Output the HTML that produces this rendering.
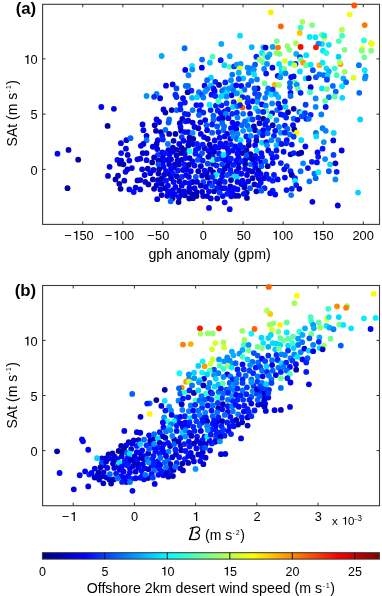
<!DOCTYPE html><html><head><meta charset="utf-8"><style>html,body{margin:0;padding:0;overflow:hidden}svg{display:block;will-change:transform}</style></head><body><svg xmlns="http://www.w3.org/2000/svg" width="382" height="596" viewBox="0 0 382 596">
<rect x="42.6" y="4.3" width="336.9" height="220.1" fill="none" stroke="#3a3a3a" stroke-width="1.1"/>
<line x1="82.75" y1="224.4" x2="82.75" y2="221.4" stroke="#333" stroke-width="1"/>
<line x1="82.75" y1="4.3" x2="82.75" y2="7.3" stroke="#333" stroke-width="1"/>
<path d="M600,0L800,0L800,1429L655,1429C625,1290 520,1215 230,1200L230,1065L600,1065Z" fill="#000" transform="translate(72.37,239.70) scale(0.00625,-0.00625)"/><text x="79.49" y="239.70" font-family="Liberation Sans, sans-serif" font-size="12.8" fill="#000">50</text>
<text x="64.30" y="239.70" font-family="Liberation Sans, sans-serif" font-size="12.8" fill="#000">&#8722;</text>
<line x1="122.83" y1="224.4" x2="122.83" y2="221.4" stroke="#333" stroke-width="1"/>
<line x1="122.83" y1="4.3" x2="122.83" y2="7.3" stroke="#333" stroke-width="1"/>
<path d="M600,0L800,0L800,1429L655,1429C625,1290 520,1215 230,1200L230,1065L600,1065Z" fill="#000" transform="translate(112.85,239.70) scale(0.00625,-0.00625)"/><text x="119.97" y="239.70" font-family="Liberation Sans, sans-serif" font-size="12.8" fill="#000">00</text>
<text x="104.78" y="239.70" font-family="Liberation Sans, sans-serif" font-size="12.8" fill="#000">&#8722;</text>
<line x1="162.91" y1="224.4" x2="162.91" y2="221.4" stroke="#333" stroke-width="1"/>
<line x1="162.91" y1="4.3" x2="162.91" y2="7.3" stroke="#333" stroke-width="1"/>
<text x="155.09" y="239.70" font-family="Liberation Sans, sans-serif" font-size="12.8" fill="#000">50</text>
<text x="147.02" y="239.70" font-family="Liberation Sans, sans-serif" font-size="12.8" fill="#000">&#8722;</text>
<line x1="202.99" y1="224.4" x2="202.99" y2="221.4" stroke="#333" stroke-width="1"/>
<line x1="202.99" y1="4.3" x2="202.99" y2="7.3" stroke="#333" stroke-width="1"/>
<text x="199.83" y="239.70" font-family="Liberation Sans, sans-serif" font-size="12.8" fill="#000">0</text>
<line x1="243.07" y1="224.4" x2="243.07" y2="221.4" stroke="#333" stroke-width="1"/>
<line x1="243.07" y1="4.3" x2="243.07" y2="7.3" stroke="#333" stroke-width="1"/>
<text x="236.75" y="239.70" font-family="Liberation Sans, sans-serif" font-size="12.8" fill="#000">50</text>
<line x1="283.15" y1="224.4" x2="283.15" y2="221.4" stroke="#333" stroke-width="1"/>
<line x1="283.15" y1="4.3" x2="283.15" y2="7.3" stroke="#333" stroke-width="1"/>
<path d="M600,0L800,0L800,1429L655,1429C625,1290 520,1215 230,1200L230,1065L600,1065Z" fill="#000" transform="translate(271.87,239.70) scale(0.00625,-0.00625)"/><text x="278.99" y="239.70" font-family="Liberation Sans, sans-serif" font-size="12.8" fill="#000">00</text>
<line x1="323.23" y1="224.4" x2="323.23" y2="221.4" stroke="#333" stroke-width="1"/>
<line x1="323.23" y1="4.3" x2="323.23" y2="7.3" stroke="#333" stroke-width="1"/>
<path d="M600,0L800,0L800,1429L655,1429C625,1290 520,1215 230,1200L230,1065L600,1065Z" fill="#000" transform="translate(312.15,239.70) scale(0.00625,-0.00625)"/><text x="319.27" y="239.70" font-family="Liberation Sans, sans-serif" font-size="12.8" fill="#000">50</text>
<line x1="363.31" y1="224.4" x2="363.31" y2="221.4" stroke="#333" stroke-width="1"/>
<line x1="363.31" y1="4.3" x2="363.31" y2="7.3" stroke="#333" stroke-width="1"/>
<text x="352.43" y="239.70" font-family="Liberation Sans, sans-serif" font-size="12.8" fill="#000">200</text>
<line x1="42.6" y1="169.4" x2="45.6" y2="169.4" stroke="#333" stroke-width="1"/>
<line x1="379.5" y1="169.4" x2="376.5" y2="169.4" stroke="#333" stroke-width="1"/>
<text x="30.58" y="174.50" font-family="Liberation Sans, sans-serif" font-size="12.8" fill="#000">0</text>
<line x1="42.6" y1="114.15" x2="45.6" y2="114.15" stroke="#333" stroke-width="1"/>
<line x1="379.5" y1="114.15" x2="376.5" y2="114.15" stroke="#333" stroke-width="1"/>
<text x="30.58" y="119.25" font-family="Liberation Sans, sans-serif" font-size="12.8" fill="#000">5</text>
<line x1="42.6" y1="58.900000000000006" x2="45.6" y2="58.900000000000006" stroke="#333" stroke-width="1"/>
<line x1="379.5" y1="58.900000000000006" x2="376.5" y2="58.900000000000006" stroke="#333" stroke-width="1"/>
<path d="M600,0L800,0L800,1429L655,1429C625,1290 520,1215 230,1200L230,1065L600,1065Z" fill="#000" transform="translate(23.46,64.00) scale(0.00625,-0.00625)"/><text x="30.58" y="64.00" font-family="Liberation Sans, sans-serif" font-size="12.8" fill="#000">0</text>
<g><circle cx="196.45" cy="195.99" r="2.9" fill="#0000b8"/><circle cx="260.72" cy="182.47" r="2.9" fill="#0005ff"/><circle cx="181.67" cy="147.98" r="2.9" fill="#0000b8"/><circle cx="213.15" cy="172.19" r="2.9" fill="#0000b8"/><circle cx="221.57" cy="188.17" r="2.9" fill="#0000b8"/><circle cx="235.2" cy="146.5" r="2.9" fill="#0005ff"/><circle cx="231.16" cy="173.57" r="2.9" fill="#0018ff"/><circle cx="176.56" cy="155.61" r="2.9" fill="#0000cb"/><circle cx="249.61" cy="157.52" r="2.9" fill="#0005ff"/><circle cx="218.47" cy="147.65" r="2.9" fill="#0005ff"/><circle cx="246.36" cy="150.09" r="2.9" fill="#0000c0"/><circle cx="235.24" cy="195.75" r="2.9" fill="#0000cb"/><circle cx="203.14" cy="196.07" r="2.9" fill="#0000e6"/><circle cx="167.21" cy="195.73" r="2.9" fill="#0000de"/><circle cx="192.9" cy="198.22" r="2.9" fill="#0000b8"/><circle cx="179.01" cy="197.55" r="2.9" fill="#0000f1"/><circle cx="245.17" cy="163.99" r="2.9" fill="#0000b8"/><circle cx="164.93" cy="188.17" r="2.9" fill="#0000c0"/><circle cx="169.47" cy="154.43" r="2.9" fill="#0000e9"/><circle cx="192.45" cy="161.48" r="2.9" fill="#0005ff"/><circle cx="210.81" cy="198.42" r="2.9" fill="#0000e6"/><circle cx="188.36" cy="145.48" r="2.9" fill="#0000ad"/><circle cx="241.39" cy="184.02" r="2.9" fill="#0000f1"/><circle cx="223.35" cy="146.55" r="2.9" fill="#0005ff"/><circle cx="252.34" cy="171.39" r="2.9" fill="#0000c0"/><circle cx="158.57" cy="160.67" r="2.9" fill="#0000b8"/><circle cx="162.7" cy="162.44" r="2.9" fill="#0000e9"/><circle cx="231.26" cy="196.31" r="2.9" fill="#0005ff"/><circle cx="238.39" cy="195.79" r="2.9" fill="#0000cb"/><circle cx="220.52" cy="180.56" r="2.9" fill="#0005ff"/><circle cx="167.57" cy="159.94" r="2.9" fill="#0000de"/><circle cx="179.0" cy="164.59" r="2.9" fill="#0000de"/><circle cx="211.13" cy="148.16" r="2.9" fill="#0000b8"/><circle cx="184.75" cy="195.35" r="2.9" fill="#0000b8"/><circle cx="258.86" cy="178.19" r="2.9" fill="#0000c0"/><circle cx="221.25" cy="158.55" r="2.9" fill="#001fff"/><circle cx="195.41" cy="153.67" r="2.9" fill="#0018ff"/><circle cx="245.19" cy="159.8" r="2.9" fill="#0000b8"/><circle cx="207.08" cy="196.11" r="2.9" fill="#0000cb"/><circle cx="196.65" cy="192.05" r="2.9" fill="#0000b8"/><circle cx="229.33" cy="161.82" r="2.9" fill="#0005ff"/><circle cx="199.69" cy="156.11" r="2.9" fill="#0018ff"/><circle cx="206.76" cy="173.41" r="2.9" fill="#0000cb"/><circle cx="172.55" cy="198.34" r="2.9" fill="#0000c0"/><circle cx="192.71" cy="182.02" r="2.9" fill="#0000c0"/><circle cx="261.19" cy="162.68" r="2.9" fill="#0005ff"/><circle cx="227.33" cy="148.35" r="2.9" fill="#0005ff"/><circle cx="250.51" cy="154.16" r="2.9" fill="#0000b8"/><circle cx="184.88" cy="153.81" r="2.9" fill="#0000cb"/><circle cx="158.48" cy="173.62" r="2.9" fill="#0000b8"/><circle cx="210.33" cy="153.3" r="2.9" fill="#0000b8"/><circle cx="222.73" cy="196.03" r="2.9" fill="#0005ff"/><circle cx="172.88" cy="147.72" r="2.9" fill="#0000c0"/><circle cx="204.59" cy="148.17" r="2.9" fill="#0000cb"/><circle cx="186.52" cy="169.32" r="2.9" fill="#0000f1"/><circle cx="189.29" cy="187.93" r="2.9" fill="#0000de"/><circle cx="189.19" cy="198.52" r="2.9" fill="#0000ad"/><circle cx="172.86" cy="151.67" r="2.9" fill="#0000de"/><circle cx="192.38" cy="194.45" r="2.9" fill="#0000b8"/><circle cx="193.13" cy="144.11" r="2.9" fill="#0000de"/><circle cx="212.65" cy="156.56" r="2.9" fill="#001fff"/><circle cx="238.39" cy="163.34" r="2.9" fill="#0000cb"/><circle cx="236.63" cy="171.38" r="2.9" fill="#0005ff"/><circle cx="222.32" cy="172.07" r="2.9" fill="#0000cb"/><circle cx="238.5" cy="157.58" r="2.9" fill="#0005ff"/><circle cx="243.44" cy="147.54" r="2.9" fill="#001fff"/><circle cx="168.39" cy="150.18" r="2.9" fill="#0000de"/><circle cx="255.3" cy="167.31" r="2.9" fill="#0005ff"/><circle cx="255.34" cy="155.95" r="2.9" fill="#0010ff"/><circle cx="244.55" cy="184.7" r="2.9" fill="#0000f1"/><circle cx="238.63" cy="149.35" r="2.9" fill="#0005ff"/><circle cx="161.55" cy="178.6" r="2.9" fill="#0000c0"/><circle cx="171.3" cy="193.67" r="2.9" fill="#0000f1"/><circle cx="181.26" cy="194.58" r="2.9" fill="#0000e9"/><circle cx="246.71" cy="192.6" r="2.9" fill="#0000c0"/><circle cx="198.42" cy="148.01" r="2.9" fill="#0005ff"/><circle cx="174.66" cy="167.63" r="2.9" fill="#0000cb"/><circle cx="177.62" cy="160.34" r="2.9" fill="#0000cb"/><circle cx="260.57" cy="173.84" r="2.9" fill="#0005ff"/><circle cx="226.83" cy="156.49" r="2.9" fill="#0005ff"/><circle cx="228.96" cy="190.04" r="2.9" fill="#0005ff"/><circle cx="169.5" cy="173.91" r="2.9" fill="#0000cb"/><circle cx="213.1" cy="163.73" r="2.9" fill="#0000cb"/><circle cx="184.85" cy="150.12" r="2.9" fill="#0000c0"/><circle cx="210.63" cy="110.11" r="2.9" fill="#001fff"/><circle cx="214.65" cy="140.48" r="2.9" fill="#0005ff"/><circle cx="233.76" cy="102.2" r="2.9" fill="#001fff"/><circle cx="200.41" cy="122.34" r="2.9" fill="#0000e9"/><circle cx="288.02" cy="112.17" r="2.9" fill="#0000b8"/><circle cx="215.97" cy="105.67" r="2.9" fill="#001fff"/><circle cx="232.56" cy="122.61" r="2.9" fill="#0005ff"/><circle cx="221.53" cy="105.36" r="2.9" fill="#0010ff"/><circle cx="221.3" cy="43.96" r="2.9" fill="#00abff"/><circle cx="184.61" cy="48.23" r="2.9" fill="#006eff"/><circle cx="270.81" cy="12.42" r="2.9" fill="#ffef00"/><circle cx="280.86" cy="26.37" r="2.9" fill="#ff6300"/><circle cx="240.03" cy="35.66" r="2.9" fill="#00e0ff"/><circle cx="276.84" cy="41.07" r="2.9" fill="#6dff92"/><circle cx="251.71" cy="47.1" r="2.9" fill="#00b6ff"/><circle cx="263.27" cy="47.35" r="2.9" fill="#00beff"/><circle cx="265.53" cy="47.6" r="2.9" fill="#0000e9"/><circle cx="272.7" cy="46.97" r="2.9" fill="#00a3ff"/><circle cx="277.97" cy="47.6" r="2.9" fill="#ff7600"/><circle cx="302.48" cy="21.84" r="2.9" fill="#a5ff5a"/><circle cx="312.15" cy="25.11" r="2.9" fill="#80ff80"/><circle cx="299.71" cy="32.9" r="2.9" fill="#ffc200"/><circle cx="300.59" cy="27.62" r="2.9" fill="#34ffcb"/><circle cx="309.64" cy="36.92" r="2.9" fill="#00e7ff"/><circle cx="315.42" cy="37.17" r="2.9" fill="#00e7ff"/><circle cx="321.95" cy="34.79" r="2.9" fill="#6dff92"/><circle cx="324.47" cy="37.93" r="2.9" fill="#deff21"/><circle cx="324.21" cy="35.66" r="2.9" fill="#00efff"/><circle cx="295.94" cy="43.2" r="2.9" fill="#a5ff5a"/><circle cx="287.4" cy="46.09" r="2.9" fill="#92ff6d"/><circle cx="300.59" cy="46.97" r="2.9" fill="#ff0500"/><circle cx="321.95" cy="43.96" r="2.9" fill="#00e0ff"/><circle cx="318.43" cy="43.58" r="2.9" fill="#0089ff"/><circle cx="315.92" cy="47.35" r="2.9" fill="#ff1800"/><circle cx="328.86" cy="44.84" r="2.9" fill="#00e0ff"/><circle cx="289.28" cy="49.86" r="2.9" fill="#80ff80"/><circle cx="322.96" cy="50.74" r="2.9" fill="#00e7ff"/><circle cx="354.25" cy="5.51" r="2.9" fill="#ff5800"/><circle cx="349.6" cy="14.3" r="2.9" fill="#f1ff0e"/><circle cx="364.68" cy="25.11" r="2.9" fill="#ff7600"/><circle cx="341.93" cy="29.76" r="2.9" fill="#b8ff47"/><circle cx="342.06" cy="35.66" r="2.9" fill="#3fffc0"/><circle cx="338.79" cy="41.07" r="2.9" fill="#47ffb8"/><circle cx="363.92" cy="40.44" r="2.9" fill="#2cffd3"/><circle cx="370.96" cy="43.2" r="2.9" fill="#b8ff47"/><circle cx="371.84" cy="43.96" r="2.9" fill="#fffa00"/><circle cx="362.16" cy="48.61" r="2.9" fill="#f1ff0e"/><circle cx="344.57" cy="49.86" r="2.9" fill="#80ff80"/><circle cx="361.79" cy="50.74" r="2.9" fill="#80ff80"/><circle cx="371.21" cy="50.74" r="2.9" fill="#80ff80"/><circle cx="161.62" cy="56.02" r="2.9" fill="#00abff"/><circle cx="185.24" cy="69.97" r="2.9" fill="#0000f1"/><circle cx="166.02" cy="85.68" r="2.9" fill="#0000f8"/><circle cx="172.68" cy="84.42" r="2.9" fill="#0000f1"/><circle cx="176.45" cy="88.44" r="2.9" fill="#0045ff"/><circle cx="185.74" cy="85.93" r="2.9" fill="#006bff"/><circle cx="146.54" cy="95.98" r="2.9" fill="#0094ff"/><circle cx="156.59" cy="93.84" r="2.9" fill="#0081ff"/><circle cx="154.08" cy="96.86" r="2.9" fill="#002aff"/><circle cx="160.11" cy="98.24" r="2.9" fill="#0000de"/><circle cx="175.44" cy="94.72" r="2.9" fill="#002aff"/><circle cx="176.45" cy="96.98" r="2.9" fill="#002aff"/><circle cx="182.98" cy="98.24" r="2.9" fill="#0000e9"/><circle cx="202.08" cy="59.54" r="2.9" fill="#006bff"/><circle cx="212.51" cy="56.65" r="2.9" fill="#47ffb8"/><circle cx="209.99" cy="62.68" r="2.9" fill="#00c5ff"/><circle cx="220.68" cy="60.17" r="2.9" fill="#0018ff"/><circle cx="229.72" cy="56.15" r="2.9" fill="#00afff"/><circle cx="224.32" cy="65.19" r="2.9" fill="#00d4ff"/><circle cx="229.47" cy="66.83" r="2.9" fill="#52ffad"/><circle cx="234.12" cy="66.45" r="2.9" fill="#003dff"/><circle cx="192.03" cy="65.82" r="2.9" fill="#00e7ff"/><circle cx="192.28" cy="69.59" r="2.9" fill="#0094ff"/><circle cx="201.83" cy="67.71" r="2.9" fill="#0000f1"/><circle cx="188.51" cy="75.25" r="2.9" fill="#0089ff"/><circle cx="232.24" cy="74.62" r="2.9" fill="#0076ff"/><circle cx="230.98" cy="80.27" r="2.9" fill="#0089ff"/><circle cx="210.87" cy="77.76" r="2.9" fill="#00d4ff"/><circle cx="207.1" cy="80.27" r="2.9" fill="#006bff"/><circle cx="215.27" cy="81.78" r="2.9" fill="#002aff"/><circle cx="219.04" cy="84.92" r="2.9" fill="#0000b8"/><circle cx="225.32" cy="82.41" r="2.9" fill="#0023ff"/><circle cx="204.59" cy="85.68" r="2.9" fill="#0000e9"/><circle cx="210.87" cy="85.3" r="2.9" fill="#00c2ff"/><circle cx="207.1" cy="89.07" r="2.9" fill="#0076ff"/><circle cx="213.39" cy="88.44" r="2.9" fill="#0010ff"/><circle cx="188.01" cy="85.93" r="2.9" fill="#006bff"/><circle cx="191.4" cy="90.7" r="2.9" fill="#002aff"/><circle cx="187.63" cy="92.21" r="2.9" fill="#0000ad"/><circle cx="198.94" cy="92.21" r="2.9" fill="#0076ff"/><circle cx="201.83" cy="94.72" r="2.9" fill="#003dff"/><circle cx="205.22" cy="91.58" r="2.9" fill="#0094ff"/><circle cx="214.64" cy="90.95" r="2.9" fill="#0005ff"/><circle cx="211.5" cy="94.72" r="2.9" fill="#000cff"/><circle cx="224.7" cy="89.07" r="2.9" fill="#0094ff"/><circle cx="222.18" cy="90.95" r="2.9" fill="#006bff"/><circle cx="227.21" cy="91.96" r="2.9" fill="#00d4ff"/><circle cx="229.09" cy="88.44" r="2.9" fill="#0094ff"/><circle cx="232.86" cy="85.93" r="2.9" fill="#009cff"/><circle cx="233.49" cy="90.32" r="2.9" fill="#0076ff"/><circle cx="231.61" cy="95.35" r="2.9" fill="#0000de"/><circle cx="192.03" cy="97.86" r="2.9" fill="#00afff"/><circle cx="197.05" cy="97.24" r="2.9" fill="#00d4ff"/><circle cx="203.34" cy="97.49" r="2.9" fill="#0076ff"/><circle cx="215.27" cy="95.98" r="2.9" fill="#002aff"/><circle cx="220.93" cy="96.61" r="2.9" fill="#00d4ff"/><circle cx="224.07" cy="95.35" r="2.9" fill="#00e0ff"/><circle cx="226.58" cy="96.61" r="2.9" fill="#0089ff"/><circle cx="262.02" cy="53.01" r="2.9" fill="#00e7ff"/><circle cx="276.47" cy="53.01" r="2.9" fill="#92ff6d"/><circle cx="279.61" cy="53.88" r="2.9" fill="#80ff80"/><circle cx="269.55" cy="54.51" r="2.9" fill="#00afff"/><circle cx="265.16" cy="55.52" r="2.9" fill="#6dff92"/><circle cx="256.36" cy="56.77" r="2.9" fill="#0023ff"/><circle cx="267.67" cy="57.03" r="2.9" fill="#0094ff"/><circle cx="259.5" cy="59.54" r="2.9" fill="#92ff6d"/><circle cx="262.9" cy="62.05" r="2.9" fill="#6dff92"/><circle cx="267.04" cy="63.94" r="2.9" fill="#0094ff"/><circle cx="236.88" cy="64.57" r="2.9" fill="#0094ff"/><circle cx="240.65" cy="63.94" r="2.9" fill="#009cff"/><circle cx="239.77" cy="68.34" r="2.9" fill="#deff21"/><circle cx="247.57" cy="67.71" r="2.9" fill="#0089ff"/><circle cx="251.34" cy="68.34" r="2.9" fill="#0081ff"/><circle cx="255.1" cy="64.57" r="2.9" fill="#0058ff"/><circle cx="253.85" cy="69.59" r="2.9" fill="#0094ff"/><circle cx="264.15" cy="68.96" r="2.9" fill="#0089ff"/><circle cx="272.45" cy="67.71" r="2.9" fill="#0000e6"/><circle cx="278.98" cy="63.94" r="2.9" fill="#00dcff"/><circle cx="281.49" cy="68.34" r="2.9" fill="#00e0ff"/><circle cx="238.77" cy="72.73" r="2.9" fill="#00afff"/><circle cx="248.82" cy="72.73" r="2.9" fill="#0089ff"/><circle cx="254.1" cy="74.37" r="2.9" fill="#00e7ff"/><circle cx="266.16" cy="73.61" r="2.9" fill="#0005ff"/><circle cx="277.72" cy="75.87" r="2.9" fill="#0010ff"/><circle cx="281.49" cy="72.73" r="2.9" fill="#00d4ff"/><circle cx="280.24" cy="77.13" r="2.9" fill="#0094ff"/><circle cx="243.17" cy="78.39" r="2.9" fill="#00c2ff"/><circle cx="238.77" cy="79.02" r="2.9" fill="#0050ff"/><circle cx="251.34" cy="80.9" r="2.9" fill="#0076ff"/><circle cx="256.99" cy="79.39" r="2.9" fill="#0081ff"/><circle cx="236.26" cy="85.3" r="2.9" fill="#0005ff"/><circle cx="241.28" cy="85.93" r="2.9" fill="#0008ff"/><circle cx="248.19" cy="84.92" r="2.9" fill="#003dff"/><circle cx="244.42" cy="89.7" r="2.9" fill="#006bff"/><circle cx="240.03" cy="92.21" r="2.9" fill="#47ffb8"/><circle cx="236.88" cy="93.47" r="2.9" fill="#0094ff"/><circle cx="264.53" cy="83.41" r="2.9" fill="#6dff92"/><circle cx="274.58" cy="84.92" r="2.9" fill="#ffaf00"/><circle cx="278.98" cy="84.92" r="2.9" fill="#92ff6d"/><circle cx="257.62" cy="88.44" r="2.9" fill="#0000cb"/><circle cx="254.48" cy="88.44" r="2.9" fill="#0050ff"/><circle cx="268.3" cy="88.44" r="2.9" fill="#006bff"/><circle cx="272.7" cy="89.7" r="2.9" fill="#002aff"/><circle cx="255.1" cy="93.47" r="2.9" fill="#003dff"/><circle cx="258.87" cy="94.72" r="2.9" fill="#0049ff"/><circle cx="267.04" cy="92.84" r="2.9" fill="#0076ff"/><circle cx="271.44" cy="94.72" r="2.9" fill="#00e7ff"/><circle cx="275.84" cy="94.09" r="2.9" fill="#009cff"/><circle cx="278.35" cy="97.24" r="2.9" fill="#00b6ff"/><circle cx="242.54" cy="97.24" r="2.9" fill="#0023ff"/><circle cx="247.57" cy="97.86" r="2.9" fill="#0036ff"/><circle cx="257.62" cy="97.86" r="2.9" fill="#0050ff"/><circle cx="265.16" cy="97.86" r="2.9" fill="#0081ff"/><circle cx="296.19" cy="53.88" r="2.9" fill="#00afff"/><circle cx="306.25" cy="55.14" r="2.9" fill="#00e0ff"/><circle cx="299.96" cy="57.03" r="2.9" fill="#003dff"/><circle cx="326.35" cy="53.01" r="2.9" fill="#21ffde"/><circle cx="284.88" cy="60.8" r="2.9" fill="#deff21"/><circle cx="290.54" cy="63.31" r="2.9" fill="#00e7ff"/><circle cx="295.57" cy="63.94" r="2.9" fill="#0023ff"/><circle cx="294.31" cy="65.19" r="2.9" fill="#cbff34"/><circle cx="300.59" cy="59.54" r="2.9" fill="#5affa5"/><circle cx="303.1" cy="62.68" r="2.9" fill="#ff9c00"/><circle cx="306.25" cy="65.19" r="2.9" fill="#6dff92"/><circle cx="310.64" cy="64.57" r="2.9" fill="#00e7ff"/><circle cx="319.44" cy="65.19" r="2.9" fill="#ffaf00"/><circle cx="322.58" cy="62.68" r="2.9" fill="#00efff"/><circle cx="284.26" cy="68.96" r="2.9" fill="#6dff92"/><circle cx="299.96" cy="71.48" r="2.9" fill="#00dcff"/><circle cx="312.91" cy="70.22" r="2.9" fill="#0050ff"/><circle cx="326.35" cy="68.34" r="2.9" fill="#00dcff"/><circle cx="328.86" cy="71.48" r="2.9" fill="#00afff"/><circle cx="285.51" cy="73.36" r="2.9" fill="#0081ff"/><circle cx="291.17" cy="77.13" r="2.9" fill="#0005ff"/><circle cx="293.68" cy="76.5" r="2.9" fill="#0010ff"/><circle cx="305.62" cy="78.39" r="2.9" fill="#00e0ff"/><circle cx="308.76" cy="78.14" r="2.9" fill="#0000cb"/><circle cx="315.92" cy="77.13" r="2.9" fill="#0058ff"/><circle cx="319.44" cy="74.37" r="2.9" fill="#0076ff"/><circle cx="323.84" cy="75.25" r="2.9" fill="#006bff"/><circle cx="327.61" cy="75.87" r="2.9" fill="#00d4ff"/><circle cx="326.98" cy="79.64" r="2.9" fill="#003dff"/><circle cx="294.31" cy="82.16" r="2.9" fill="#6dff92"/><circle cx="289.91" cy="82.79" r="2.9" fill="#006bff"/><circle cx="296.82" cy="84.67" r="2.9" fill="#0094ff"/><circle cx="310.64" cy="87.18" r="2.9" fill="#0000d3"/><circle cx="289.91" cy="87.18" r="2.9" fill="#0063ff"/><circle cx="298.08" cy="89.07" r="2.9" fill="#5affa5"/><circle cx="321.95" cy="88.44" r="2.9" fill="#00e7ff"/><circle cx="326.98" cy="89.07" r="2.9" fill="#6dff92"/><circle cx="290.54" cy="92.84" r="2.9" fill="#0005ff"/><circle cx="300.59" cy="92.84" r="2.9" fill="#0023ff"/><circle cx="310.02" cy="92.21" r="2.9" fill="#34ffcb"/><circle cx="290.54" cy="95.98" r="2.9" fill="#006bff"/><circle cx="315.67" cy="98.49" r="2.9" fill="#0089ff"/><circle cx="328.86" cy="97.24" r="2.9" fill="#0076ff"/><circle cx="338.54" cy="56.77" r="2.9" fill="#00d4ff"/><circle cx="340.42" cy="63.94" r="2.9" fill="#ff8900"/><circle cx="339.8" cy="62.3" r="2.9" fill="#b8ff47"/><circle cx="364.3" cy="57.28" r="2.9" fill="#6dff92"/><circle cx="358.9" cy="65.19" r="2.9" fill="#0076ff"/><circle cx="334.77" cy="68.34" r="2.9" fill="#34ffcb"/><circle cx="344.57" cy="71.85" r="2.9" fill="#9eff61"/><circle cx="364.68" cy="70.22" r="2.9" fill="#00e7ff"/><circle cx="336.65" cy="75.25" r="2.9" fill="#47ffb8"/><circle cx="353.62" cy="77.76" r="2.9" fill="#deff21"/><circle cx="365.55" cy="76.13" r="2.9" fill="#0089ff"/><circle cx="364.93" cy="78.39" r="2.9" fill="#0094ff"/><circle cx="343.31" cy="78.39" r="2.9" fill="#00afff"/><circle cx="346.08" cy="82.16" r="2.9" fill="#0063ff"/><circle cx="332.88" cy="85.93" r="2.9" fill="#006bff"/><circle cx="342.06" cy="86.18" r="2.9" fill="#00e7ff"/><circle cx="335.77" cy="91.58" r="2.9" fill="#0063ff"/><circle cx="359.27" cy="92.84" r="2.9" fill="#006bff"/><circle cx="334.77" cy="96.61" r="2.9" fill="#52ffad"/><circle cx="342.31" cy="97.86" r="2.9" fill="#00dcff"/><circle cx="101.3" cy="107.0" r="2.9" fill="#0001ff"/><circle cx="113.9" cy="108.8" r="2.9" fill="#0000de"/><circle cx="107.6" cy="125.9" r="2.9" fill="#00009a"/><circle cx="126.4" cy="140.2" r="2.9" fill="#0000de"/><circle cx="130.5" cy="138.2" r="2.9" fill="#0063ff"/><circle cx="120.9" cy="143.2" r="2.9" fill="#0000e9"/><circle cx="163.5" cy="109.42" r="2.9" fill="#0000de"/><circle cx="165.39" cy="112.57" r="2.9" fill="#0000b8"/><circle cx="171.67" cy="110.05" r="2.9" fill="#0000c0"/><circle cx="176.7" cy="110.05" r="2.9" fill="#0063ff"/><circle cx="180.47" cy="109.42" r="2.9" fill="#0023ff"/><circle cx="180.47" cy="104.4" r="2.9" fill="#0018ff"/><circle cx="184.86" cy="102.51" r="2.9" fill="#0018ff"/><circle cx="184.86" cy="113.82" r="2.9" fill="#0018ff"/><circle cx="156.59" cy="119.48" r="2.9" fill="#0000e9"/><circle cx="159.1" cy="121.99" r="2.9" fill="#0000fc"/><circle cx="169.16" cy="119.48" r="2.9" fill="#006bff"/><circle cx="168.53" cy="122.62" r="2.9" fill="#0058ff"/><circle cx="182.35" cy="118.85" r="2.9" fill="#0000c0"/><circle cx="185.49" cy="121.36" r="2.9" fill="#0018ff"/><circle cx="142.52" cy="124.5" r="2.9" fill="#0000d6"/><circle cx="154.71" cy="125.13" r="2.9" fill="#0000b8"/><circle cx="179.84" cy="123.25" r="2.9" fill="#0000ad"/><circle cx="180.47" cy="127.02" r="2.9" fill="#0005ff"/><circle cx="143.4" cy="130.16" r="2.9" fill="#0005ff"/><circle cx="155.96" cy="130.79" r="2.9" fill="#0000c0"/><circle cx="160.99" cy="132.04" r="2.9" fill="#0000ad"/><circle cx="165.39" cy="129.91" r="2.9" fill="#006bff"/><circle cx="169.16" cy="133.93" r="2.9" fill="#0000b8"/><circle cx="175.44" cy="133.93" r="2.9" fill="#0000ad"/><circle cx="181.09" cy="130.79" r="2.9" fill="#0000cb"/><circle cx="184.86" cy="132.04" r="2.9" fill="#0018ff"/><circle cx="146.54" cy="135.81" r="2.9" fill="#0000e9"/><circle cx="162.25" cy="135.81" r="2.9" fill="#0018ff"/><circle cx="146.54" cy="140.21" r="2.9" fill="#0076ff"/><circle cx="157.85" cy="140.21" r="2.9" fill="#0005ff"/><circle cx="162.87" cy="139.58" r="2.9" fill="#0023ff"/><circle cx="173.55" cy="140.84" r="2.9" fill="#0000c0"/><circle cx="181.72" cy="137.07" r="2.9" fill="#003dff"/><circle cx="183.61" cy="140.84" r="2.9" fill="#0005ff"/><circle cx="143.4" cy="143.98" r="2.9" fill="#0000de"/><circle cx="156.59" cy="143.98" r="2.9" fill="#0000c0"/><circle cx="167.9" cy="143.98" r="2.9" fill="#0076ff"/><circle cx="179.21" cy="143.98" r="2.9" fill="#0000e9"/><circle cx="152.82" cy="146.74" r="2.9" fill="#0000f1"/><circle cx="140.88" cy="145.86" r="2.9" fill="#0000f1"/><circle cx="196.42" cy="105.03" r="2.9" fill="#0005ff"/><circle cx="200.82" cy="105.03" r="2.9" fill="#0010ff"/><circle cx="209.62" cy="104.77" r="2.9" fill="#00efff"/><circle cx="218.41" cy="101.51" r="2.9" fill="#47ffb8"/><circle cx="226.58" cy="103.14" r="2.9" fill="#003dff"/><circle cx="232.86" cy="106.91" r="2.9" fill="#00d4ff"/><circle cx="227.84" cy="109.42" r="2.9" fill="#0010ff"/><circle cx="192.65" cy="110.05" r="2.9" fill="#0076ff"/><circle cx="199.57" cy="110.68" r="2.9" fill="#0018ff"/><circle cx="203.34" cy="112.57" r="2.9" fill="#001fff"/><circle cx="198.94" cy="115.08" r="2.9" fill="#0063ff"/><circle cx="188.01" cy="114.45" r="2.9" fill="#0018ff"/><circle cx="213.39" cy="115.71" r="2.9" fill="#0063ff"/><circle cx="217.79" cy="110.68" r="2.9" fill="#001fff"/><circle cx="220.93" cy="113.19" r="2.9" fill="#0005ff"/><circle cx="224.7" cy="111.31" r="2.9" fill="#001fff"/><circle cx="225.95" cy="113.82" r="2.9" fill="#0081ff"/><circle cx="232.24" cy="113.82" r="2.9" fill="#002aff"/><circle cx="205.22" cy="120.1" r="2.9" fill="#0000e9"/><circle cx="213.39" cy="120.1" r="2.9" fill="#006bff"/><circle cx="219.04" cy="118.85" r="2.9" fill="#0005ff"/><circle cx="222.81" cy="118.22" r="2.9" fill="#0000cb"/><circle cx="228.47" cy="118.22" r="2.9" fill="#0010ff"/><circle cx="188.26" cy="120.73" r="2.9" fill="#0000e9"/><circle cx="192.65" cy="122.62" r="2.9" fill="#0000e9"/><circle cx="194.54" cy="127.02" r="2.9" fill="#0000f8"/><circle cx="198.31" cy="128.27" r="2.9" fill="#0000cb"/><circle cx="206.48" cy="125.13" r="2.9" fill="#0058ff"/><circle cx="212.13" cy="124.5" r="2.9" fill="#0018ff"/><circle cx="217.16" cy="126.39" r="2.9" fill="#0050ff"/><circle cx="222.18" cy="123.25" r="2.9" fill="#0063ff"/><circle cx="224.07" cy="126.39" r="2.9" fill="#006bff"/><circle cx="230.98" cy="128.27" r="2.9" fill="#0005ff"/><circle cx="234.12" cy="127.02" r="2.9" fill="#0005ff"/><circle cx="188.26" cy="132.04" r="2.9" fill="#0005ff"/><circle cx="192.65" cy="132.92" r="2.9" fill="#0094ff"/><circle cx="200.82" cy="133.93" r="2.9" fill="#0005ff"/><circle cx="207.1" cy="130.16" r="2.9" fill="#0000f8"/><circle cx="212.13" cy="132.67" r="2.9" fill="#0058ff"/><circle cx="218.41" cy="132.04" r="2.9" fill="#0018ff"/><circle cx="223.44" cy="130.16" r="2.9" fill="#006bff"/><circle cx="227.21" cy="133.93" r="2.9" fill="#0000de"/><circle cx="232.24" cy="132.67" r="2.9" fill="#0076ff"/><circle cx="189.51" cy="137.7" r="2.9" fill="#0000ad"/><circle cx="193.28" cy="138.95" r="2.9" fill="#0000b8"/><circle cx="203.96" cy="137.07" r="2.9" fill="#0005ff"/><circle cx="207.73" cy="138.95" r="2.9" fill="#0000cb"/><circle cx="219.67" cy="137.7" r="2.9" fill="#0010ff"/><circle cx="224.7" cy="136.44" r="2.9" fill="#0005ff"/><circle cx="230.35" cy="138.95" r="2.9" fill="#0000cb"/><circle cx="233.49" cy="136.44" r="2.9" fill="#0094ff"/><circle cx="188.88" cy="142.09" r="2.9" fill="#0000de"/><circle cx="197.05" cy="143.98" r="2.9" fill="#001fff"/><circle cx="202.71" cy="144.61" r="2.9" fill="#001fff"/><circle cx="209.62" cy="144.61" r="2.9" fill="#0000b8"/><circle cx="220.3" cy="143.35" r="2.9" fill="#0005ff"/><circle cx="225.95" cy="143.35" r="2.9" fill="#0005ff"/><circle cx="230.98" cy="144.61" r="2.9" fill="#001fff"/><circle cx="215.27" cy="146.74" r="2.9" fill="#0005ff"/><circle cx="239.77" cy="100.38" r="2.9" fill="#deff21"/><circle cx="242.54" cy="107.54" r="2.9" fill="#ff6300"/><circle cx="237.51" cy="106.28" r="2.9" fill="#0076ff"/><circle cx="240.03" cy="105.03" r="2.9" fill="#001fff"/><circle cx="247.57" cy="102.51" r="2.9" fill="#002aff"/><circle cx="252.59" cy="101.26" r="2.9" fill="#0010ff"/><circle cx="257.62" cy="101.88" r="2.9" fill="#009cff"/><circle cx="262.02" cy="104.4" r="2.9" fill="#0005ff"/><circle cx="265.79" cy="105.65" r="2.9" fill="#0076ff"/><circle cx="272.07" cy="103.52" r="2.9" fill="#0089ff"/><circle cx="278.35" cy="103.77" r="2.9" fill="#001fff"/><circle cx="248.82" cy="106.91" r="2.9" fill="#0010ff"/><circle cx="255.73" cy="108.17" r="2.9" fill="#00d4ff"/><circle cx="258.25" cy="111.31" r="2.9" fill="#0076ff"/><circle cx="266.41" cy="110.68" r="2.9" fill="#52ffad"/><circle cx="272.07" cy="113.19" r="2.9" fill="#0005ff"/><circle cx="277.09" cy="110.05" r="2.9" fill="#006bff"/><circle cx="280.24" cy="107.54" r="2.9" fill="#0005ff"/><circle cx="236.88" cy="112.57" r="2.9" fill="#002aff"/><circle cx="243.17" cy="113.82" r="2.9" fill="#0076ff"/><circle cx="250.08" cy="113.82" r="2.9" fill="#0005ff"/><circle cx="263.27" cy="111.94" r="2.9" fill="#001fff"/><circle cx="270.18" cy="116.34" r="2.9" fill="#34ffcb"/><circle cx="280.86" cy="114.45" r="2.9" fill="#0010ff"/><circle cx="237.51" cy="117.59" r="2.9" fill="#0081ff"/><circle cx="248.82" cy="119.48" r="2.9" fill="#00baff"/><circle cx="252.59" cy="119.48" r="2.9" fill="#003dff"/><circle cx="258.25" cy="117.59" r="2.9" fill="#001fff"/><circle cx="263.27" cy="118.85" r="2.9" fill="#00008b"/><circle cx="267.04" cy="120.73" r="2.9" fill="#002aff"/><circle cx="276.47" cy="120.1" r="2.9" fill="#0081ff"/><circle cx="245.05" cy="121.36" r="2.9" fill="#006bff"/><circle cx="237.51" cy="123.87" r="2.9" fill="#0005ff"/><circle cx="241.91" cy="125.13" r="2.9" fill="#0063ff"/><circle cx="247.57" cy="125.76" r="2.9" fill="#006bff"/><circle cx="253.85" cy="126.39" r="2.9" fill="#0000cb"/><circle cx="259.5" cy="123.25" r="2.9" fill="#0000cb"/><circle cx="265.16" cy="124.5" r="2.9" fill="#0010ff"/><circle cx="272.7" cy="125.13" r="2.9" fill="#0000c0"/><circle cx="268.3" cy="128.27" r="2.9" fill="#001fff"/><circle cx="278.98" cy="127.02" r="2.9" fill="#0081ff"/><circle cx="236.26" cy="128.9" r="2.9" fill="#0000f1"/><circle cx="243.17" cy="130.79" r="2.9" fill="#0094ff"/><circle cx="249.45" cy="129.53" r="2.9" fill="#0094ff"/><circle cx="255.1" cy="130.16" r="2.9" fill="#0000c0"/><circle cx="259.5" cy="132.04" r="2.9" fill="#0076ff"/><circle cx="263.27" cy="130.16" r="2.9" fill="#0005ff"/><circle cx="267.67" cy="133.3" r="2.9" fill="#006bff"/><circle cx="275.21" cy="130.79" r="2.9" fill="#0010ff"/><circle cx="280.86" cy="132.67" r="2.9" fill="#0094ff"/><circle cx="237.51" cy="133.93" r="2.9" fill="#0089ff"/><circle cx="246.31" cy="136.44" r="2.9" fill="#0018ff"/><circle cx="250.71" cy="135.81" r="2.9" fill="#0089ff"/><circle cx="256.36" cy="137.07" r="2.9" fill="#001fff"/><circle cx="262.64" cy="135.18" r="2.9" fill="#0010ff"/><circle cx="273.95" cy="135.81" r="2.9" fill="#001fff"/><circle cx="236.88" cy="138.95" r="2.9" fill="#006bff"/><circle cx="240.65" cy="140.21" r="2.9" fill="#00e7ff"/><circle cx="248.82" cy="140.84" r="2.9" fill="#001fff"/><circle cx="256.36" cy="140.84" r="2.9" fill="#0000cb"/><circle cx="262.02" cy="142.72" r="2.9" fill="#00d4ff"/><circle cx="266.41" cy="142.09" r="2.9" fill="#0010ff"/><circle cx="271.44" cy="140.21" r="2.9" fill="#0081ff"/><circle cx="278.35" cy="140.21" r="2.9" fill="#0076ff"/><circle cx="240.03" cy="145.24" r="2.9" fill="#001fff"/><circle cx="248.82" cy="145.24" r="2.9" fill="#0000b8"/><circle cx="255.1" cy="145.24" r="2.9" fill="#0005ff"/><circle cx="267.04" cy="145.24" r="2.9" fill="#0089ff"/><circle cx="276.47" cy="145.24" r="2.9" fill="#00c2ff"/><circle cx="281.49" cy="143.98" r="2.9" fill="#0010ff"/><circle cx="284.88" cy="101.51" r="2.9" fill="#001fff"/><circle cx="325.09" cy="101.01" r="2.9" fill="#5affa5"/><circle cx="285.51" cy="106.91" r="2.9" fill="#00d4ff"/><circle cx="305.62" cy="104.77" r="2.9" fill="#003dff"/><circle cx="315.67" cy="106.91" r="2.9" fill="#0089ff"/><circle cx="325.72" cy="106.91" r="2.9" fill="#0010ff"/><circle cx="293.68" cy="108.8" r="2.9" fill="#0000b8"/><circle cx="299.34" cy="111.94" r="2.9" fill="#0076ff"/><circle cx="301.85" cy="113.19" r="2.9" fill="#34ffcb"/><circle cx="304.99" cy="113.19" r="2.9" fill="#003dff"/><circle cx="310.64" cy="114.83" r="2.9" fill="#001fff"/><circle cx="321.32" cy="114.45" r="2.9" fill="#0081ff"/><circle cx="283.63" cy="115.08" r="2.9" fill="#0018ff"/><circle cx="286.14" cy="117.59" r="2.9" fill="#001fff"/><circle cx="293.68" cy="118.6" r="2.9" fill="#006bff"/><circle cx="297.45" cy="119.85" r="2.9" fill="#0005ff"/><circle cx="301.85" cy="116.34" r="2.9" fill="#0050ff"/><circle cx="306.25" cy="118.85" r="2.9" fill="#001fff"/><circle cx="308.76" cy="118.85" r="2.9" fill="#006bff"/><circle cx="284.88" cy="125.76" r="2.9" fill="#001fff"/><circle cx="287.4" cy="128.9" r="2.9" fill="#0063ff"/><circle cx="293.05" cy="125.13" r="2.9" fill="#0005ff"/><circle cx="294.31" cy="129.53" r="2.9" fill="#000096"/><circle cx="296.82" cy="132.67" r="2.9" fill="#fffa00"/><circle cx="289.91" cy="134.55" r="2.9" fill="#006bff"/><circle cx="293.68" cy="136.69" r="2.9" fill="#003dff"/><circle cx="284.88" cy="132.67" r="2.9" fill="#001fff"/><circle cx="322.58" cy="128.27" r="2.9" fill="#0076ff"/><circle cx="325.72" cy="130.79" r="2.9" fill="#0081ff"/><circle cx="315.92" cy="132.92" r="2.9" fill="#0076ff"/><circle cx="316.3" cy="136.44" r="2.9" fill="#00dcff"/><circle cx="301.22" cy="140.21" r="2.9" fill="#00d4ff"/><circle cx="286.77" cy="140.21" r="2.9" fill="#0005ff"/><circle cx="286.14" cy="143.35" r="2.9" fill="#001fff"/><circle cx="291.8" cy="144.61" r="2.9" fill="#0010ff"/><circle cx="323.84" cy="142.09" r="2.9" fill="#0094ff"/><circle cx="305.37" cy="146.49" r="2.9" fill="#0005ff"/><circle cx="360.15" cy="119.48" r="2.9" fill="#00d4ff"/><circle cx="333.76" cy="132.92" r="2.9" fill="#00d4ff"/><circle cx="333.26" cy="140.46" r="2.9" fill="#0000f1"/><circle cx="57.45" cy="153.65" r="2.9" fill="#0005ff"/><circle cx="68.51" cy="149.88" r="2.9" fill="#0000b8"/><circle cx="78.18" cy="159.69" r="2.9" fill="#00009e"/><circle cx="67.5" cy="188.21" r="2.9" fill="#00009a"/><circle cx="125.93" cy="148.63" r="2.9" fill="#0000e9"/><circle cx="121.16" cy="153.03" r="2.9" fill="#000cff"/><circle cx="127.69" cy="154.91" r="2.9" fill="#0000cb"/><circle cx="117.39" cy="159.94" r="2.9" fill="#000cff"/><circle cx="121.16" cy="160.57" r="2.9" fill="#0000de"/><circle cx="129.32" cy="160.57" r="2.9" fill="#0005ff"/><circle cx="119.9" cy="163.71" r="2.9" fill="#0000ad"/><circle cx="123.42" cy="164.34" r="2.9" fill="#0000ad"/><circle cx="137.49" cy="159.31" r="2.9" fill="#0000e9"/><circle cx="109.6" cy="166.85" r="2.9" fill="#0000e6"/><circle cx="127.44" cy="169.36" r="2.9" fill="#0000d6"/><circle cx="131.84" cy="168.1" r="2.9" fill="#0000de"/><circle cx="125.55" cy="171.87" r="2.9" fill="#0000f8"/><circle cx="107.96" cy="175.9" r="2.9" fill="#0000d6"/><circle cx="118.02" cy="175.64" r="2.9" fill="#0000b8"/><circle cx="115.5" cy="179.41" r="2.9" fill="#0000ad"/><circle cx="124.3" cy="180.67" r="2.9" fill="#0000de"/><circle cx="119.27" cy="183.81" r="2.9" fill="#0000ad"/><circle cx="120.53" cy="188.84" r="2.9" fill="#0000a5"/><circle cx="137.49" cy="180.42" r="2.9" fill="#0000ad"/><circle cx="135.61" cy="187.58" r="2.9" fill="#0000e9"/><circle cx="129.32" cy="189.47" r="2.9" fill="#0000f8"/><circle cx="133.72" cy="191.98" r="2.9" fill="#0005ff"/><circle cx="157.22" cy="149.01" r="2.9" fill="#0000de"/><circle cx="142.77" cy="153.03" r="2.9" fill="#0000c0"/><circle cx="146.54" cy="153.03" r="2.9" fill="#0000de"/><circle cx="157.85" cy="154.91" r="2.9" fill="#003dff"/><circle cx="162.25" cy="152.4" r="2.9" fill="#0005ff"/><circle cx="165.39" cy="153.03" r="2.9" fill="#0018ff"/><circle cx="162.87" cy="157.42" r="2.9" fill="#0000e9"/><circle cx="154.08" cy="157.42" r="2.9" fill="#0000cb"/><circle cx="140.26" cy="158.68" r="2.9" fill="#0000e9"/><circle cx="146.54" cy="160.19" r="2.9" fill="#0005ff"/><circle cx="152.19" cy="162.45" r="2.9" fill="#0000b8"/><circle cx="171.04" cy="159.31" r="2.9" fill="#0000de"/><circle cx="176.7" cy="149.88" r="2.9" fill="#0000c0"/><circle cx="181.09" cy="153.03" r="2.9" fill="#0000b8"/><circle cx="181.72" cy="159.94" r="2.9" fill="#0000cb"/><circle cx="185.49" cy="158.05" r="2.9" fill="#0005ff"/><circle cx="158.48" cy="164.34" r="2.9" fill="#0050ff"/><circle cx="163.5" cy="166.85" r="2.9" fill="#0005ff"/><circle cx="169.16" cy="164.34" r="2.9" fill="#0000de"/><circle cx="174.81" cy="164.34" r="2.9" fill="#0000cb"/><circle cx="184.24" cy="164.34" r="2.9" fill="#0018ff"/><circle cx="142.14" cy="169.36" r="2.9" fill="#0000de"/><circle cx="147.8" cy="168.73" r="2.9" fill="#0000c0"/><circle cx="153.45" cy="169.99" r="2.9" fill="#0000e9"/><circle cx="159.1" cy="169.36" r="2.9" fill="#0000b8"/><circle cx="166.02" cy="171.25" r="2.9" fill="#0005ff"/><circle cx="171.04" cy="168.73" r="2.9" fill="#0000f1"/><circle cx="177.95" cy="170.62" r="2.9" fill="#0018ff"/><circle cx="182.98" cy="169.99" r="2.9" fill="#0000e9"/><circle cx="144.65" cy="175.02" r="2.9" fill="#0000de"/><circle cx="150.31" cy="173.13" r="2.9" fill="#0000f1"/><circle cx="164.13" cy="175.02" r="2.9" fill="#0000cb"/><circle cx="172.93" cy="173.76" r="2.9" fill="#0018ff"/><circle cx="176.7" cy="176.27" r="2.9" fill="#0000cb"/><circle cx="181.72" cy="176.9" r="2.9" fill="#002aff"/><circle cx="186.12" cy="175.02" r="2.9" fill="#0000f1"/><circle cx="140.26" cy="180.04" r="2.9" fill="#0000de"/><circle cx="145.28" cy="181.93" r="2.9" fill="#0000e9"/><circle cx="152.82" cy="179.41" r="2.9" fill="#0000b8"/><circle cx="157.85" cy="180.04" r="2.9" fill="#0000c0"/><circle cx="166.02" cy="180.67" r="2.9" fill="#0018ff"/><circle cx="171.04" cy="178.16" r="2.9" fill="#0000cb"/><circle cx="173.55" cy="181.93" r="2.9" fill="#0005ff"/><circle cx="179.21" cy="181.3" r="2.9" fill="#0000b8"/><circle cx="184.86" cy="182.55" r="2.9" fill="#0005ff"/><circle cx="148.42" cy="184.44" r="2.9" fill="#0000b8"/><circle cx="156.59" cy="185.07" r="2.9" fill="#0000de"/><circle cx="161.62" cy="183.81" r="2.9" fill="#0000c0"/><circle cx="167.9" cy="185.7" r="2.9" fill="#0005ff"/><circle cx="175.44" cy="186.95" r="2.9" fill="#0000f1"/><circle cx="181.72" cy="185.7" r="2.9" fill="#0005ff"/><circle cx="140.26" cy="189.47" r="2.9" fill="#0000e9"/><circle cx="154.08" cy="188.84" r="2.9" fill="#0000b8"/><circle cx="160.36" cy="189.47" r="2.9" fill="#0000de"/><circle cx="167.9" cy="191.35" r="2.9" fill="#0005ff"/><circle cx="172.93" cy="190.09" r="2.9" fill="#0000f1"/><circle cx="179.21" cy="190.72" r="2.9" fill="#0000c0"/><circle cx="184.24" cy="191.35" r="2.9" fill="#0000e9"/><circle cx="161.62" cy="195.12" r="2.9" fill="#0000b8"/><circle cx="174.81" cy="194.49" r="2.9" fill="#0000f1"/><circle cx="212.76" cy="159.94" r="2.9" fill="#47ffb8"/><circle cx="195.8" cy="149.88" r="2.9" fill="#0018ff"/><circle cx="202.08" cy="153.03" r="2.9" fill="#0050ff"/><circle cx="208.36" cy="150.51" r="2.9" fill="#0005ff"/><circle cx="214.02" cy="151.77" r="2.9" fill="#0000b8"/><circle cx="219.04" cy="153.65" r="2.9" fill="#001fff"/><circle cx="228.47" cy="152.4" r="2.9" fill="#0010ff"/><circle cx="232.86" cy="150.51" r="2.9" fill="#0005ff"/><circle cx="189.51" cy="151.14" r="2.9" fill="#0efff1"/><circle cx="223.44" cy="154.91" r="2.9" fill="#00e7ff"/><circle cx="189.51" cy="158.05" r="2.9" fill="#0000c0"/><circle cx="197.68" cy="159.94" r="2.9" fill="#0050ff"/><circle cx="202.71" cy="160.57" r="2.9" fill="#0018ff"/><circle cx="208.36" cy="156.8" r="2.9" fill="#0000cb"/><circle cx="217.16" cy="159.31" r="2.9" fill="#003dff"/><circle cx="225.32" cy="160.57" r="2.9" fill="#0005ff"/><circle cx="230.98" cy="158.68" r="2.9" fill="#001fff"/><circle cx="188.88" cy="164.96" r="2.9" fill="#0000b8"/><circle cx="194.54" cy="165.59" r="2.9" fill="#0005ff"/><circle cx="200.82" cy="166.22" r="2.9" fill="#0000cb"/><circle cx="207.73" cy="163.71" r="2.9" fill="#0045ff"/><circle cx="216.53" cy="165.59" r="2.9" fill="#001fff"/><circle cx="222.18" cy="164.34" r="2.9" fill="#0045ff"/><circle cx="227.84" cy="165.59" r="2.9" fill="#0000c0"/><circle cx="233.49" cy="164.96" r="2.9" fill="#0018ff"/><circle cx="190.77" cy="171.25" r="2.9" fill="#0000f1"/><circle cx="198.31" cy="171.25" r="2.9" fill="#0000c0"/><circle cx="204.59" cy="170.62" r="2.9" fill="#0005ff"/><circle cx="210.25" cy="169.36" r="2.9" fill="#0000b8"/><circle cx="219.67" cy="170.62" r="2.9" fill="#001fff"/><circle cx="224.7" cy="168.73" r="2.9" fill="#0000cb"/><circle cx="230.35" cy="169.99" r="2.9" fill="#0018ff"/><circle cx="215.9" cy="175.02" r="2.9" fill="#00efff"/><circle cx="234.12" cy="176.65" r="2.9" fill="#00e7ff"/><circle cx="188.88" cy="176.9" r="2.9" fill="#0000e9"/><circle cx="195.8" cy="176.9" r="2.9" fill="#0050ff"/><circle cx="202.08" cy="175.64" r="2.9" fill="#0000cb"/><circle cx="207.73" cy="177.53" r="2.9" fill="#0000b8"/><circle cx="212.13" cy="176.9" r="2.9" fill="#001fff"/><circle cx="222.18" cy="176.27" r="2.9" fill="#0005ff"/><circle cx="227.21" cy="175.02" r="2.9" fill="#0045ff"/><circle cx="230.98" cy="180.04" r="2.9" fill="#0000c0"/><circle cx="189.51" cy="183.18" r="2.9" fill="#0005ff"/><circle cx="197.05" cy="181.93" r="2.9" fill="#0000de"/><circle cx="203.34" cy="181.93" r="2.9" fill="#0045ff"/><circle cx="209.62" cy="183.18" r="2.9" fill="#0005ff"/><circle cx="215.27" cy="181.3" r="2.9" fill="#0018ff"/><circle cx="219.04" cy="183.81" r="2.9" fill="#0000b8"/><circle cx="224.7" cy="181.93" r="2.9" fill="#001fff"/><circle cx="194.54" cy="188.21" r="2.9" fill="#0000f1"/><circle cx="200.82" cy="185.7" r="2.9" fill="#0000c0"/><circle cx="205.85" cy="186.95" r="2.9" fill="#0000e6"/><circle cx="212.13" cy="185.7" r="2.9" fill="#0045ff"/><circle cx="217.16" cy="188.21" r="2.9" fill="#0018ff"/><circle cx="224.7" cy="188.21" r="2.9" fill="#0005ff"/><circle cx="230.35" cy="186.32" r="2.9" fill="#0000cb"/><circle cx="234.12" cy="188.21" r="2.9" fill="#0005ff"/><circle cx="189.51" cy="191.98" r="2.9" fill="#0000b8"/><circle cx="202.08" cy="191.98" r="2.9" fill="#0000cb"/><circle cx="208.99" cy="191.35" r="2.9" fill="#0005ff"/><circle cx="214.02" cy="191.35" r="2.9" fill="#0000b8"/><circle cx="219.67" cy="192.61" r="2.9" fill="#003dff"/><circle cx="227.21" cy="193.86" r="2.9" fill="#0018ff"/><circle cx="232.24" cy="192.61" r="2.9" fill="#0005ff"/><circle cx="256.61" cy="150.26" r="2.9" fill="#00d4ff"/><circle cx="268.3" cy="150.51" r="2.9" fill="#0000cb"/><circle cx="276.47" cy="150.51" r="2.9" fill="#0010ff"/><circle cx="237.51" cy="153.65" r="2.9" fill="#0005ff"/><circle cx="242.54" cy="153.03" r="2.9" fill="#0000c0"/><circle cx="246.31" cy="155.54" r="2.9" fill="#0050ff"/><circle cx="261.39" cy="153.03" r="2.9" fill="#0010ff"/><circle cx="271.44" cy="153.65" r="2.9" fill="#001fff"/><circle cx="252.59" cy="159.31" r="2.9" fill="#0000b8"/><circle cx="257.62" cy="158.68" r="2.9" fill="#0005ff"/><circle cx="262.02" cy="156.8" r="2.9" fill="#0010ff"/><circle cx="265.16" cy="161.19" r="2.9" fill="#0063ff"/><circle cx="272.7" cy="158.05" r="2.9" fill="#0005ff"/><circle cx="276.47" cy="156.8" r="2.9" fill="#0010ff"/><circle cx="236.26" cy="160.57" r="2.9" fill="#0005ff"/><circle cx="241.28" cy="161.19" r="2.9" fill="#001fff"/><circle cx="250.71" cy="164.34" r="2.9" fill="#006bff"/><circle cx="255.1" cy="163.71" r="2.9" fill="#0005ff"/><circle cx="261.39" cy="166.22" r="2.9" fill="#0058ff"/><circle cx="267.67" cy="166.22" r="2.9" fill="#0000ad"/><circle cx="272.7" cy="163.08" r="2.9" fill="#0005ff"/><circle cx="280.86" cy="163.08" r="2.9" fill="#001fff"/><circle cx="238.77" cy="168.1" r="2.9" fill="#0000cb"/><circle cx="245.05" cy="168.73" r="2.9" fill="#0005ff"/><circle cx="248.82" cy="170.62" r="2.9" fill="#0000de"/><circle cx="258.25" cy="170.62" r="2.9" fill="#0000c0"/><circle cx="236.88" cy="176.9" r="2.9" fill="#00d4ff"/><circle cx="241.28" cy="173.76" r="2.9" fill="#0005ff"/><circle cx="246.94" cy="175.02" r="2.9" fill="#0000cb"/><circle cx="252.59" cy="178.16" r="2.9" fill="#0000c0"/><circle cx="256.99" cy="174.39" r="2.9" fill="#0005ff"/><circle cx="266.41" cy="174.39" r="2.9" fill="#0010ff"/><circle cx="273.95" cy="175.02" r="2.9" fill="#0018ff"/><circle cx="263.9" cy="178.16" r="2.9" fill="#0005ff"/><circle cx="268.93" cy="178.79" r="2.9" fill="#0010ff"/><circle cx="272.7" cy="180.67" r="2.9" fill="#001fff"/><circle cx="277.72" cy="179.41" r="2.9" fill="#0005ff"/><circle cx="237.51" cy="181.93" r="2.9" fill="#0000e9"/><circle cx="242.54" cy="180.67" r="2.9" fill="#0005ff"/><circle cx="248.19" cy="181.3" r="2.9" fill="#0000f1"/><circle cx="254.48" cy="184.44" r="2.9" fill="#0000c0"/><circle cx="258.87" cy="185.7" r="2.9" fill="#0010ff"/><circle cx="244.42" cy="187.58" r="2.9" fill="#0000cb"/><circle cx="250.08" cy="188.21" r="2.9" fill="#0050ff"/><circle cx="264.53" cy="188.21" r="2.9" fill="#001fff"/><circle cx="237.51" cy="189.47" r="2.9" fill="#0005ff"/><circle cx="256.36" cy="191.35" r="2.9" fill="#0000c0"/><circle cx="261.39" cy="190.72" r="2.9" fill="#0058ff"/><circle cx="272.7" cy="190.72" r="2.9" fill="#0018ff"/><circle cx="270.18" cy="193.24" r="2.9" fill="#0005ff"/><circle cx="243.8" cy="193.86" r="2.9" fill="#0010ff"/><circle cx="275.21" cy="194.49" r="2.9" fill="#0005ff"/><circle cx="322.58" cy="148.63" r="2.9" fill="#0018ff"/><circle cx="283.63" cy="151.77" r="2.9" fill="#0005ff"/><circle cx="290.54" cy="154.28" r="2.9" fill="#0000d3"/><circle cx="293.68" cy="153.03" r="2.9" fill="#001fff"/><circle cx="298.71" cy="153.65" r="2.9" fill="#0000c0"/><circle cx="301.22" cy="152.77" r="2.9" fill="#0000b8"/><circle cx="317.55" cy="152.4" r="2.9" fill="#0005ff"/><circle cx="318.18" cy="156.8" r="2.9" fill="#0018ff"/><circle cx="325.09" cy="159.06" r="2.9" fill="#0089ff"/><circle cx="303.1" cy="163.33" r="2.9" fill="#0089ff"/><circle cx="311.9" cy="161.82" r="2.9" fill="#0018ff"/><circle cx="316.93" cy="162.45" r="2.9" fill="#0005ff"/><circle cx="330.12" cy="164.34" r="2.9" fill="#00d4ff"/><circle cx="286.77" cy="166.22" r="2.9" fill="#002aff"/><circle cx="284.26" cy="169.36" r="2.9" fill="#0010ff"/><circle cx="290.54" cy="171.25" r="2.9" fill="#001fff"/><circle cx="300.59" cy="171.25" r="2.9" fill="#006bff"/><circle cx="307.88" cy="168.1" r="2.9" fill="#0010ff"/><circle cx="328.86" cy="171.25" r="2.9" fill="#0058ff"/><circle cx="291.8" cy="175.02" r="2.9" fill="#0000ad"/><circle cx="314.41" cy="173.76" r="2.9" fill="#006bff"/><circle cx="318.43" cy="172.13" r="2.9" fill="#00efff"/><circle cx="284.88" cy="177.53" r="2.9" fill="#0005ff"/><circle cx="294.94" cy="178.16" r="2.9" fill="#001fff"/><circle cx="294.94" cy="180.92" r="2.9" fill="#00efff"/><circle cx="315.67" cy="178.16" r="2.9" fill="#0063ff"/><circle cx="309.39" cy="181.3" r="2.9" fill="#006bff"/><circle cx="296.19" cy="185.07" r="2.9" fill="#001fff"/><circle cx="286.52" cy="190.09" r="2.9" fill="#0010ff"/><circle cx="291.8" cy="188.84" r="2.9" fill="#001fff"/><circle cx="299.34" cy="188.84" r="2.9" fill="#0000b8"/><circle cx="291.17" cy="195.12" r="2.9" fill="#0076ff"/><circle cx="341.68" cy="150.51" r="2.9" fill="#0000e9"/><circle cx="333.51" cy="154.91" r="2.9" fill="#003dff"/><circle cx="335.4" cy="163.33" r="2.9" fill="#0000cb"/><circle cx="336.65" cy="171.87" r="2.9" fill="#001fff"/><circle cx="335.4" cy="179.41" r="2.9" fill="#0089ff"/><circle cx="358.02" cy="192.61" r="2.9" fill="#00d4ff"/><circle cx="157.22" cy="199.14" r="2.9" fill="#0000de"/><circle cx="170.66" cy="201.28" r="2.9" fill="#0063ff"/><circle cx="178.58" cy="202.03" r="2.9" fill="#0000ad"/><circle cx="217.16" cy="198.51" r="2.9" fill="#0000c0"/><circle cx="224.7" cy="202.28" r="2.9" fill="#0005ff"/><circle cx="208.99" cy="207.94" r="2.9" fill="#0000e6"/><circle cx="229.72" cy="209.19" r="2.9" fill="#0005ff"/><circle cx="246.94" cy="197.88" r="2.9" fill="#0000b8"/><circle cx="312.4" cy="201.8" r="2.9" fill="#0000e9"/><circle cx="337.8" cy="205.5" r="2.9" fill="#0000e9"/></g>
<text x="36.2" y="14.3" font-family="Liberation Sans, sans-serif" font-size="16.8" font-weight="bold" text-anchor="end">(a)</text>
<text x="209.6" y="259.1" font-family="Liberation Sans, sans-serif" font-size="14.2" text-anchor="middle">gph anomaly (gpm)</text>
<text transform="translate(16.6,113.3) rotate(-90)" font-family="Liberation Sans, sans-serif" font-size="14" text-anchor="middle">SAt (m s<tspan font-size="6.5" dy="-5.3" dx="0.6">-</tspan><tspan font-size="6.5" dx="1.0">1</tspan><tspan dy="5.3" dx="0.6">)</tspan></text>
<rect x="42.6" y="285.5" width="336.9" height="220.2" fill="none" stroke="#3a3a3a" stroke-width="1.1"/>
<line x1="73.2" y1="505.7" x2="73.2" y2="502.7" stroke="#333" stroke-width="1"/>
<line x1="73.2" y1="285.5" x2="73.2" y2="288.5" stroke="#333" stroke-width="1"/>
<path d="M600,0L800,0L800,1429L655,1429C625,1290 520,1215 230,1200L230,1065L600,1065Z" fill="#000" transform="translate(69.84,521.00) scale(0.00625,-0.00625)"/>
<text x="61.77" y="521.00" font-family="Liberation Sans, sans-serif" font-size="12.8" fill="#000">&#8722;</text>
<line x1="134.4" y1="505.7" x2="134.4" y2="502.7" stroke="#333" stroke-width="1"/>
<line x1="134.4" y1="285.5" x2="134.4" y2="288.5" stroke="#333" stroke-width="1"/>
<text x="131.04" y="521.00" font-family="Liberation Sans, sans-serif" font-size="12.8" fill="#000">0</text>
<line x1="195.60000000000002" y1="505.7" x2="195.60000000000002" y2="502.7" stroke="#333" stroke-width="1"/>
<line x1="195.60000000000002" y1="285.5" x2="195.60000000000002" y2="288.5" stroke="#333" stroke-width="1"/>
<path d="M600,0L800,0L800,1429L655,1429C625,1290 520,1215 230,1200L230,1065L600,1065Z" fill="#000" transform="translate(192.24,521.00) scale(0.00625,-0.00625)"/>
<line x1="256.8" y1="505.7" x2="256.8" y2="502.7" stroke="#333" stroke-width="1"/>
<line x1="256.8" y1="285.5" x2="256.8" y2="288.5" stroke="#333" stroke-width="1"/>
<text x="253.44" y="521.00" font-family="Liberation Sans, sans-serif" font-size="12.8" fill="#000">2</text>
<line x1="318.0" y1="505.7" x2="318.0" y2="502.7" stroke="#333" stroke-width="1"/>
<line x1="318.0" y1="285.5" x2="318.0" y2="288.5" stroke="#333" stroke-width="1"/>
<text x="314.64" y="521.00" font-family="Liberation Sans, sans-serif" font-size="12.8" fill="#000">3</text>
<line x1="42.6" y1="450.6" x2="45.6" y2="450.6" stroke="#333" stroke-width="1"/>
<line x1="379.5" y1="450.6" x2="376.5" y2="450.6" stroke="#333" stroke-width="1"/>
<text x="30.58" y="455.70" font-family="Liberation Sans, sans-serif" font-size="12.8" fill="#000">0</text>
<line x1="42.6" y1="395.5" x2="45.6" y2="395.5" stroke="#333" stroke-width="1"/>
<line x1="379.5" y1="395.5" x2="376.5" y2="395.5" stroke="#333" stroke-width="1"/>
<text x="30.58" y="400.60" font-family="Liberation Sans, sans-serif" font-size="12.8" fill="#000">5</text>
<line x1="42.6" y1="340.40000000000003" x2="45.6" y2="340.40000000000003" stroke="#333" stroke-width="1"/>
<line x1="379.5" y1="340.40000000000003" x2="376.5" y2="340.40000000000003" stroke="#333" stroke-width="1"/>
<path d="M600,0L800,0L800,1429L655,1429C625,1290 520,1215 230,1200L230,1065L600,1065Z" fill="#000" transform="translate(23.46,345.50) scale(0.00625,-0.00625)"/><text x="30.58" y="345.50" font-family="Liberation Sans, sans-serif" font-size="12.8" fill="#000">0</text>
<g><circle cx="108.57" cy="454.35" r="2.9" fill="#0000c0"/><circle cx="138.46" cy="440.12" r="2.9" fill="#0000cb"/><circle cx="163.42" cy="475.36" r="2.9" fill="#0005ff"/><circle cx="134.64" cy="461.83" r="2.9" fill="#0000cb"/><circle cx="128.08" cy="476.18" r="2.9" fill="#0005ff"/><circle cx="143.99" cy="479.3" r="2.9" fill="#0000f1"/><circle cx="126.35" cy="482.0" r="2.9" fill="#0000e9"/><circle cx="148.22" cy="453.39" r="2.9" fill="#0000c0"/><circle cx="159.65" cy="453.4" r="2.9" fill="#0018ff"/><circle cx="121.63" cy="456.36" r="2.9" fill="#0000de"/><circle cx="168.34" cy="476.67" r="2.9" fill="#0000c0"/><circle cx="142.48" cy="475.41" r="2.9" fill="#0010ff"/><circle cx="102.37" cy="476.16" r="2.9" fill="#0000cb"/><circle cx="169.41" cy="467.51" r="2.9" fill="#0000c0"/><circle cx="144.21" cy="456.27" r="2.9" fill="#0005ff"/><circle cx="97.32" cy="475.38" r="2.9" fill="#0000cb"/><circle cx="106.66" cy="477.44" r="2.9" fill="#0000cb"/><circle cx="132.25" cy="443.71" r="2.9" fill="#0000de"/><circle cx="169.95" cy="471.95" r="2.9" fill="#0018ff"/><circle cx="118.69" cy="466.07" r="2.9" fill="#0000c0"/><circle cx="114.67" cy="456.61" r="2.9" fill="#0000de"/><circle cx="157.71" cy="461.41" r="2.9" fill="#0005ff"/><circle cx="124.69" cy="463.84" r="2.9" fill="#0005ff"/><circle cx="109.4" cy="479.43" r="2.9" fill="#0000cb"/><circle cx="94.63" cy="477.49" r="2.9" fill="#0000cb"/><circle cx="144.54" cy="468.28" r="2.9" fill="#0000e9"/><circle cx="124.0" cy="448.53" r="2.9" fill="#0000ad"/><circle cx="103.33" cy="465.31" r="2.9" fill="#0000de"/><circle cx="140.25" cy="477.87" r="2.9" fill="#0010ff"/><circle cx="119.88" cy="469.83" r="2.9" fill="#0000e9"/><circle cx="140.48" cy="453.3" r="2.9" fill="#0000c0"/><circle cx="112.47" cy="453.47" r="2.9" fill="#0000c0"/><circle cx="166.3" cy="472.56" r="2.9" fill="#0000c0"/><circle cx="161.65" cy="471.39" r="2.9" fill="#0018ff"/><circle cx="128.7" cy="442.12" r="2.9" fill="#0000de"/><circle cx="128.6" cy="462.36" r="2.9" fill="#0005ff"/><circle cx="137.69" cy="463.37" r="2.9" fill="#0000c0"/><circle cx="152.19" cy="459.51" r="2.9" fill="#0018ff"/><circle cx="127.91" cy="457.74" r="2.9" fill="#0005ff"/><circle cx="138.4" cy="467.9" r="2.9" fill="#0000e9"/><circle cx="122.44" cy="452.18" r="2.9" fill="#0000a5"/><circle cx="144.31" cy="459.37" r="2.9" fill="#0000cb"/><circle cx="167.93" cy="460.35" r="2.9" fill="#0063ff"/><circle cx="129.98" cy="468.58" r="2.9" fill="#0000de"/><circle cx="173.54" cy="469.88" r="2.9" fill="#0000c0"/><circle cx="105.72" cy="458.33" r="2.9" fill="#0000de"/><circle cx="151.87" cy="465.63" r="2.9" fill="#0018ff"/><circle cx="158.08" cy="447.85" r="2.9" fill="#0018ff"/><circle cx="154.2" cy="447.41" r="2.9" fill="#0005ff"/><circle cx="122.07" cy="481.93" r="2.9" fill="#0018ff"/><circle cx="114.7" cy="459.93" r="2.9" fill="#0000de"/><circle cx="150.07" cy="443.64" r="2.9" fill="#0005ff"/><circle cx="113.78" cy="479.43" r="2.9" fill="#0000cb"/><circle cx="155.82" cy="466.43" r="2.9" fill="#0005ff"/><circle cx="134.54" cy="456.35" r="2.9" fill="#0000cb"/><circle cx="101.84" cy="458.34" r="2.9" fill="#0000e9"/><circle cx="123.83" cy="477.77" r="2.9" fill="#0005ff"/><circle cx="148.0" cy="478.1" r="2.9" fill="#0000cb"/><circle cx="258.16" cy="404.67" r="2.9" fill="#0000e9"/><circle cx="154.04" cy="438.68" r="2.9" fill="#0000cb"/><circle cx="238.1" cy="424.54" r="2.9" fill="#0000b8"/><circle cx="212.6" cy="424.01" r="2.9" fill="#0010ff"/><circle cx="216.01" cy="437.96" r="2.9" fill="#0036ff"/><circle cx="202.69" cy="452.18" r="2.9" fill="#0000c0"/><circle cx="244.33" cy="405.66" r="2.9" fill="#0018ff"/><circle cx="254.52" cy="410.49" r="2.9" fill="#0018ff"/><circle cx="263.4" cy="396.06" r="2.9" fill="#0005ff"/><circle cx="180.62" cy="445.56" r="2.9" fill="#0000cb"/><circle cx="174.26" cy="439.54" r="2.9" fill="#0000b8"/><circle cx="215.35" cy="441.74" r="2.9" fill="#0000c0"/><circle cx="268.32" cy="397.58" r="2.9" fill="#0005ff"/><circle cx="257.4" cy="381.71" r="2.9" fill="#0036ff"/><circle cx="224.49" cy="435.7" r="2.9" fill="#001fff"/><circle cx="242.15" cy="422.35" r="2.9" fill="#0000cb"/><circle cx="178.19" cy="421.95" r="2.9" fill="#0005ff"/><circle cx="208.31" cy="398.47" r="2.9" fill="#0010ff"/><circle cx="264.25" cy="400.51" r="2.9" fill="#0000c0"/><circle cx="264.39" cy="392.33" r="2.9" fill="#0000c0"/><circle cx="211.42" cy="429.76" r="2.9" fill="#001fff"/><circle cx="233.84" cy="426.29" r="2.9" fill="#0010ff"/><circle cx="221.97" cy="397.88" r="2.9" fill="#0036ff"/><circle cx="243.81" cy="411.6" r="2.9" fill="#0005ff"/><circle cx="170.12" cy="446.01" r="2.9" fill="#0000c0"/><circle cx="164.19" cy="452.18" r="2.9" fill="#0005ff"/><circle cx="175.94" cy="454.25" r="2.9" fill="#0000cb"/><circle cx="218.22" cy="408.11" r="2.9" fill="#0000ad"/><circle cx="259.54" cy="391.44" r="2.9" fill="#001fff"/><circle cx="202.05" cy="407.57" r="2.9" fill="#002aff"/><circle cx="210.07" cy="450.49" r="2.9" fill="#0005ff"/><circle cx="202.52" cy="440.24" r="2.9" fill="#0018ff"/><circle cx="162.51" cy="436.15" r="2.9" fill="#0000cb"/><circle cx="211.87" cy="443.46" r="2.9" fill="#001fff"/><circle cx="200.62" cy="443.66" r="2.9" fill="#0000cb"/><circle cx="253.59" cy="385.95" r="2.9" fill="#0036ff"/><circle cx="220.24" cy="432.38" r="2.9" fill="#001fff"/><circle cx="187.89" cy="425.54" r="2.9" fill="#0005ff"/><circle cx="201.66" cy="456.39" r="2.9" fill="#0005ff"/><circle cx="226.46" cy="389.57" r="2.9" fill="#0050ff"/><circle cx="209.66" cy="440.56" r="2.9" fill="#0005ff"/><circle cx="163.58" cy="444.41" r="2.9" fill="#0010ff"/><circle cx="202.12" cy="417.63" r="2.9" fill="#0010ff"/><circle cx="193.94" cy="443.64" r="2.9" fill="#0000c0"/><circle cx="234.22" cy="390.28" r="2.9" fill="#0076ff"/><circle cx="198.27" cy="454.46" r="2.9" fill="#0000cb"/><circle cx="180.16" cy="468.33" r="2.9" fill="#0000cb"/><circle cx="215.42" cy="429.58" r="2.9" fill="#0018ff"/><circle cx="264.29" cy="388.28" r="2.9" fill="#003dff"/><circle cx="218.62" cy="392.0" r="2.9" fill="#006bff"/><circle cx="217.34" cy="421.45" r="2.9" fill="#0000c0"/><circle cx="256.58" cy="393.62" r="2.9" fill="#0036ff"/><circle cx="288.27" cy="338.69" r="2.9" fill="#5affa5"/><circle cx="194.23" cy="378.18" r="2.9" fill="#0094ff"/><circle cx="194.04" cy="372.65" r="2.9" fill="#00d4ff"/><circle cx="210.37" cy="363.72" r="2.9" fill="#cbff34"/><circle cx="231.85" cy="351.62" r="2.9" fill="#00afff"/><circle cx="180.23" cy="393.64" r="2.9" fill="#0063ff"/><circle cx="258.16" cy="362.46" r="2.9" fill="#006bff"/><circle cx="295.93" cy="364.21" r="2.9" fill="#0005ff"/><circle cx="233.43" cy="355.36" r="2.9" fill="#00afff"/><circle cx="178.5" cy="400.63" r="2.9" fill="#0081ff"/><circle cx="202.66" cy="361.36" r="2.9" fill="#00faff"/><circle cx="300.68" cy="352.23" r="2.9" fill="#0089ff"/><circle cx="224.16" cy="361.36" r="2.9" fill="#0094ff"/><circle cx="208.16" cy="387.51" r="2.9" fill="#0081ff"/><circle cx="302.16" cy="342.14" r="2.9" fill="#0076ff"/><circle cx="272.07" cy="360.27" r="2.9" fill="#0076ff"/><circle cx="199.94" cy="328.35" r="2.9" fill="#ff1000"/><circle cx="219.04" cy="328.35" r="2.9" fill="#ff1800"/><circle cx="268.68" cy="286.88" r="2.9" fill="#ff6300"/><circle cx="270.18" cy="313.9" r="2.9" fill="#ffc900"/><circle cx="267.04" cy="310.76" r="2.9" fill="#b1ff4e"/><circle cx="269.55" cy="324.58" r="2.9" fill="#a5ff5a"/><circle cx="273.32" cy="323.32" r="2.9" fill="#92ff6d"/><circle cx="279.98" cy="324.96" r="2.9" fill="#fffa00"/><circle cx="272.07" cy="329.98" r="2.9" fill="#deff21"/><circle cx="278.35" cy="331.74" r="2.9" fill="#80ff80"/><circle cx="254.48" cy="328.98" r="2.9" fill="#ff6300"/><circle cx="242.29" cy="330.86" r="2.9" fill="#9eff61"/><circle cx="296.82" cy="295.68" r="2.9" fill="#fffa00"/><circle cx="294.31" cy="303.22" r="2.9" fill="#a5ff5a"/><circle cx="328.24" cy="308.87" r="2.9" fill="#34ffcb"/><circle cx="310.64" cy="317.04" r="2.9" fill="#47ffb8"/><circle cx="311.27" cy="321.44" r="2.9" fill="#34ffcb"/><circle cx="286.77" cy="322.45" r="2.9" fill="#65ff9a"/><circle cx="318.81" cy="322.45" r="2.9" fill="#5affa5"/><circle cx="320.07" cy="327.72" r="2.9" fill="#9eff61"/><circle cx="313.16" cy="324.96" r="2.9" fill="#009cff"/><circle cx="313.79" cy="328.35" r="2.9" fill="#00afff"/><circle cx="304.99" cy="328.35" r="2.9" fill="#00afff"/><circle cx="326.98" cy="318.93" r="2.9" fill="#f1ff0e"/><circle cx="328.86" cy="317.04" r="2.9" fill="#00efff"/><circle cx="326.35" cy="325.84" r="2.9" fill="#00e7ff"/><circle cx="329.49" cy="327.72" r="2.9" fill="#00afff"/><circle cx="286.77" cy="332.5" r="2.9" fill="#00e7ff"/><circle cx="299.34" cy="331.74" r="2.9" fill="#21ffde"/><circle cx="373.72" cy="293.8" r="2.9" fill="#fffa00"/><circle cx="337.03" cy="306.36" r="2.9" fill="#ff8900"/><circle cx="347.08" cy="306.11" r="2.9" fill="#92ff6d"/><circle cx="346.08" cy="307.87" r="2.9" fill="#ff7e00"/><circle cx="338.79" cy="317.04" r="2.9" fill="#00dcff"/><circle cx="363.92" cy="318.3" r="2.9" fill="#00efff"/><circle cx="375.61" cy="317.92" r="2.9" fill="#00efff"/><circle cx="339.17" cy="324.58" r="2.9" fill="#78ff87"/><circle cx="343.31" cy="324.96" r="2.9" fill="#00efff"/><circle cx="333.51" cy="329.23" r="2.9" fill="#0081ff"/><circle cx="351.1" cy="328.35" r="2.9" fill="#00e7ff"/><circle cx="370.58" cy="328.98" r="2.9" fill="#0000f1"/><circle cx="182.98" cy="344.56" r="2.9" fill="#ff7e00"/><circle cx="179.46" cy="373.21" r="2.9" fill="#07fff8"/><circle cx="200.57" cy="333.63" r="2.9" fill="#a5ff5a"/><circle cx="207.73" cy="333.38" r="2.9" fill="#92ff6d"/><circle cx="212.76" cy="333.38" r="2.9" fill="#92ff6d"/><circle cx="190.77" cy="344.06" r="2.9" fill="#ffaf00"/><circle cx="215.27" cy="343.05" r="2.9" fill="#d6ff29"/><circle cx="223.44" cy="342.42" r="2.9" fill="#a5ff5a"/><circle cx="224.07" cy="347.45" r="2.9" fill="#d6ff29"/><circle cx="212.13" cy="349.34" r="2.9" fill="#d6ff29"/><circle cx="212.76" cy="359.39" r="2.9" fill="#cbff34"/><circle cx="219.04" cy="359.39" r="2.9" fill="#0094ff"/><circle cx="227.21" cy="357.5" r="2.9" fill="#0089ff"/><circle cx="229.72" cy="360.64" r="2.9" fill="#0081ff"/><circle cx="232.86" cy="363.79" r="2.9" fill="#0094ff"/><circle cx="198.31" cy="365.92" r="2.9" fill="#00d4ff"/><circle cx="204.59" cy="366.3" r="2.9" fill="#ff9c00"/><circle cx="219.67" cy="365.67" r="2.9" fill="#47ffb8"/><circle cx="227.84" cy="365.92" r="2.9" fill="#9eff61"/><circle cx="231.61" cy="367.55" r="2.9" fill="#00efff"/><circle cx="223.44" cy="368.81" r="2.9" fill="#34ffcb"/><circle cx="214.02" cy="369.69" r="2.9" fill="#0050ff"/><circle cx="209.62" cy="370.7" r="2.9" fill="#47ffb8"/><circle cx="202.08" cy="372.58" r="2.9" fill="#00faff"/><circle cx="188.88" cy="374.47" r="2.9" fill="#0089ff"/><circle cx="218.41" cy="373.21" r="2.9" fill="#0076ff"/><circle cx="227.21" cy="374.47" r="2.9" fill="#0000e9"/><circle cx="230.35" cy="376.35" r="2.9" fill="#0081ff"/><circle cx="207.1" cy="374.47" r="2.9" fill="#00d4ff"/><circle cx="214.02" cy="375.09" r="2.9" fill="#0094ff"/><circle cx="223.44" cy="376.98" r="2.9" fill="#0089ff"/><circle cx="203.96" cy="378.86" r="2.9" fill="#0000de"/><circle cx="199.57" cy="380.12" r="2.9" fill="#00e7ff"/><circle cx="215.9" cy="378.86" r="2.9" fill="#00d4ff"/><circle cx="188.88" cy="379.49" r="2.9" fill="#0089ff"/><circle cx="232.86" cy="379.49" r="2.9" fill="#0018ff"/><circle cx="251.34" cy="333.63" r="2.9" fill="#00faff"/><circle cx="244.42" cy="339.91" r="2.9" fill="#9eff61"/><circle cx="243.8" cy="344.94" r="2.9" fill="#47ffb8"/><circle cx="248.57" cy="344.94" r="2.9" fill="#0094ff"/><circle cx="261.39" cy="337.77" r="2.9" fill="#00dcff"/><circle cx="268.3" cy="338.03" r="2.9" fill="#00d4ff"/><circle cx="270.81" cy="334.88" r="2.9" fill="#00dcff"/><circle cx="280.24" cy="338.03" r="2.9" fill="#5affa5"/><circle cx="263.27" cy="343.05" r="2.9" fill="#00e7ff"/><circle cx="257.62" cy="346.82" r="2.9" fill="#6dff92"/><circle cx="262.02" cy="348.08" r="2.9" fill="#80ff80"/><circle cx="268.3" cy="346.82" r="2.9" fill="#00afff"/><circle cx="272.7" cy="343.05" r="2.9" fill="#00dcff"/><circle cx="276.47" cy="343.68" r="2.9" fill="#00dcff"/><circle cx="280.24" cy="344.94" r="2.9" fill="#00dcff"/><circle cx="275.21" cy="349.34" r="2.9" fill="#00c5ff"/><circle cx="278.98" cy="348.71" r="2.9" fill="#6dff92"/><circle cx="242.54" cy="349.96" r="2.9" fill="#00afff"/><circle cx="248.82" cy="350.59" r="2.9" fill="#6dff92"/><circle cx="239.4" cy="353.73" r="2.9" fill="#0094ff"/><circle cx="242.54" cy="356.87" r="2.9" fill="#47ffb8"/><circle cx="253.85" cy="353.1" r="2.9" fill="#0050ff"/><circle cx="257.62" cy="355.62" r="2.9" fill="#0058ff"/><circle cx="262.02" cy="358.76" r="2.9" fill="#0005ff"/><circle cx="268.3" cy="355.62" r="2.9" fill="#002aff"/><circle cx="276.47" cy="354.99" r="2.9" fill="#002aff"/><circle cx="281.49" cy="354.36" r="2.9" fill="#0089ff"/><circle cx="247.57" cy="359.39" r="2.9" fill="#00d4ff"/><circle cx="252.59" cy="361.9" r="2.9" fill="#006bff"/><circle cx="265.16" cy="361.27" r="2.9" fill="#003dff"/><circle cx="277.72" cy="360.02" r="2.9" fill="#001fff"/><circle cx="235.63" cy="363.16" r="2.9" fill="#0063ff"/><circle cx="242.54" cy="364.41" r="2.9" fill="#0005ff"/><circle cx="250.08" cy="365.04" r="2.9" fill="#0089ff"/><circle cx="255.73" cy="367.55" r="2.9" fill="#0018ff"/><circle cx="260.13" cy="366.93" r="2.9" fill="#003dff"/><circle cx="266.41" cy="366.3" r="2.9" fill="#00d4ff"/><circle cx="272.07" cy="365.04" r="2.9" fill="#0000e9"/><circle cx="278.35" cy="367.55" r="2.9" fill="#0076ff"/><circle cx="281.49" cy="363.16" r="2.9" fill="#00d4ff"/><circle cx="237.51" cy="369.44" r="2.9" fill="#001fff"/><circle cx="243.8" cy="369.44" r="2.9" fill="#002aff"/><circle cx="249.45" cy="370.7" r="2.9" fill="#003dff"/><circle cx="262.02" cy="370.7" r="2.9" fill="#0076ff"/><circle cx="267.04" cy="371.95" r="2.9" fill="#002aff"/><circle cx="272.7" cy="370.7" r="2.9" fill="#0063ff"/><circle cx="280.86" cy="371.95" r="2.9" fill="#001fff"/><circle cx="238.77" cy="374.47" r="2.9" fill="#0036ff"/><circle cx="245.68" cy="375.72" r="2.9" fill="#0063ff"/><circle cx="253.22" cy="373.21" r="2.9" fill="#002aff"/><circle cx="257.62" cy="376.35" r="2.9" fill="#0076ff"/><circle cx="262.64" cy="376.35" r="2.9" fill="#0005ff"/><circle cx="268.93" cy="375.72" r="2.9" fill="#0076ff"/><circle cx="275.84" cy="375.09" r="2.9" fill="#0000e9"/><circle cx="280.86" cy="378.24" r="2.9" fill="#6dff92"/><circle cx="236.26" cy="378.86" r="2.9" fill="#0076ff"/><circle cx="242.54" cy="379.49" r="2.9" fill="#001fff"/><circle cx="251.34" cy="379.49" r="2.9" fill="#006bff"/><circle cx="271.44" cy="379.49" r="2.9" fill="#0076ff"/><circle cx="293.05" cy="336.77" r="2.9" fill="#5affa5"/><circle cx="302.48" cy="334.88" r="2.9" fill="#00afff"/><circle cx="311.27" cy="334.01" r="2.9" fill="#6dff92"/><circle cx="298.08" cy="338.65" r="2.9" fill="#009cff"/><circle cx="309.39" cy="338.28" r="2.9" fill="#0050ff"/><circle cx="319.44" cy="337.4" r="2.9" fill="#00afff"/><circle cx="330.5" cy="338.65" r="2.9" fill="#6dff92"/><circle cx="283.63" cy="340.54" r="2.9" fill="#6dff92"/><circle cx="288.03" cy="345.57" r="2.9" fill="#00dcff"/><circle cx="292.42" cy="343.05" r="2.9" fill="#34ffcb"/><circle cx="298.08" cy="344.94" r="2.9" fill="#0076ff"/><circle cx="318.81" cy="341.8" r="2.9" fill="#002aff"/><circle cx="313.16" cy="344.94" r="2.9" fill="#0081ff"/><circle cx="323.84" cy="345.57" r="2.9" fill="#9eff61"/><circle cx="304.36" cy="348.71" r="2.9" fill="#0000e9"/><circle cx="308.76" cy="350.59" r="2.9" fill="#00d4ff"/><circle cx="313.16" cy="351.22" r="2.9" fill="#0000de"/><circle cx="319.44" cy="348.08" r="2.9" fill="#00dcff"/><circle cx="322.58" cy="349.34" r="2.9" fill="#0000cb"/><circle cx="293.68" cy="348.08" r="2.9" fill="#00d4ff"/><circle cx="288.03" cy="350.59" r="2.9" fill="#0036ff"/><circle cx="284.88" cy="354.99" r="2.9" fill="#0081ff"/><circle cx="290.54" cy="358.13" r="2.9" fill="#0076ff"/><circle cx="294.31" cy="354.36" r="2.9" fill="#0089ff"/><circle cx="297.45" cy="356.87" r="2.9" fill="#00e7ff"/><circle cx="302.48" cy="359.39" r="2.9" fill="#0005ff"/><circle cx="307.5" cy="358.13" r="2.9" fill="#0058ff"/><circle cx="306.25" cy="362.53" r="2.9" fill="#001fff"/><circle cx="286.14" cy="362.53" r="2.9" fill="#001fff"/><circle cx="292.42" cy="360.64" r="2.9" fill="#0036ff"/><circle cx="283.63" cy="366.93" r="2.9" fill="#0076ff"/><circle cx="289.91" cy="366.93" r="2.9" fill="#0005ff"/><circle cx="286.77" cy="370.7" r="2.9" fill="#0063ff"/><circle cx="296.19" cy="369.69" r="2.9" fill="#0000a5"/><circle cx="306.25" cy="371.95" r="2.9" fill="#0018ff"/><circle cx="289.91" cy="373.84" r="2.9" fill="#47ffb8"/><circle cx="287.4" cy="378.24" r="2.9" fill="#001fff"/><circle cx="340.8" cy="345.57" r="2.9" fill="#005cff"/><circle cx="132.21" cy="393.94" r="2.9" fill="#0063ff"/><circle cx="186.12" cy="381.63" r="2.9" fill="#ff9c00"/><circle cx="164.76" cy="389.8" r="2.9" fill="#0000ad"/><circle cx="181.72" cy="387.53" r="2.9" fill="#ff8900"/><circle cx="178.96" cy="388.29" r="2.9" fill="#0063ff"/><circle cx="184.86" cy="392.31" r="2.9" fill="#34ffcb"/><circle cx="156.34" cy="400.1" r="2.9" fill="#0000a5"/><circle cx="164.76" cy="400.85" r="2.9" fill="#00e7ff"/><circle cx="149.68" cy="403.37" r="2.9" fill="#0063ff"/><circle cx="147.17" cy="403.62" r="2.9" fill="#0018ff"/><circle cx="161.37" cy="405.88" r="2.9" fill="#0000e9"/><circle cx="169.16" cy="406.76" r="2.9" fill="#0094ff"/><circle cx="165.39" cy="410.53" r="2.9" fill="#0018ff"/><circle cx="171.04" cy="410.53" r="2.9" fill="#0089ff"/><circle cx="182.98" cy="398.59" r="2.9" fill="#0018ff"/><circle cx="181.72" cy="404.25" r="2.9" fill="#0000cb"/><circle cx="182.35" cy="409.9" r="2.9" fill="#0081ff"/><circle cx="149.68" cy="413.92" r="2.9" fill="#fffa00"/><circle cx="140.51" cy="416.81" r="2.9" fill="#0000e9"/><circle cx="164.13" cy="417.44" r="2.9" fill="#0094ff"/><circle cx="171.67" cy="414.93" r="2.9" fill="#0005ff"/><circle cx="176.7" cy="417.44" r="2.9" fill="#003dff"/><circle cx="180.47" cy="416.81" r="2.9" fill="#0005ff"/><circle cx="184.86" cy="416.18" r="2.9" fill="#001fff"/><circle cx="167.27" cy="421.21" r="2.9" fill="#21ffde"/><circle cx="174.18" cy="421.21" r="2.9" fill="#00faff"/><circle cx="162.87" cy="422.47" r="2.9" fill="#0005ff"/><circle cx="171.04" cy="424.35" r="2.9" fill="#0076ff"/><circle cx="176.7" cy="425.61" r="2.9" fill="#0018ff"/><circle cx="181.72" cy="423.72" r="2.9" fill="#0000de"/><circle cx="185.49" cy="422.47" r="2.9" fill="#0005ff"/><circle cx="169.16" cy="427.49" r="2.9" fill="#00d4ff"/><circle cx="163.5" cy="427.49" r="2.9" fill="#0005ff"/><circle cx="182.98" cy="427.49" r="2.9" fill="#0000f1"/><circle cx="188.88" cy="381.63" r="2.9" fill="#cbff34"/><circle cx="192.03" cy="385.4" r="2.9" fill="#0076ff"/><circle cx="198.94" cy="382.26" r="2.9" fill="#0094ff"/><circle cx="203.34" cy="385.4" r="2.9" fill="#0000c0"/><circle cx="209.62" cy="382.88" r="2.9" fill="#0081ff"/><circle cx="214.64" cy="386.65" r="2.9" fill="#00dcff"/><circle cx="218.41" cy="384.77" r="2.9" fill="#00c2ff"/><circle cx="222.81" cy="383.51" r="2.9" fill="#52ffad"/><circle cx="229.72" cy="382.88" r="2.9" fill="#0050ff"/><circle cx="220.93" cy="388.54" r="2.9" fill="#001fff"/><circle cx="230.35" cy="388.54" r="2.9" fill="#0076ff"/><circle cx="233.49" cy="384.77" r="2.9" fill="#0094ff"/><circle cx="189.51" cy="390.42" r="2.9" fill="#001fff"/><circle cx="193.91" cy="392.94" r="2.9" fill="#0000b8"/><circle cx="198.31" cy="390.42" r="2.9" fill="#00d4ff"/><circle cx="205.85" cy="393.57" r="2.9" fill="#21ffde"/><circle cx="201.45" cy="396.08" r="2.9" fill="#0076ff"/><circle cx="210.87" cy="392.31" r="2.9" fill="#0000cb"/><circle cx="212.13" cy="393.57" r="2.9" fill="#0036ff"/><circle cx="217.16" cy="397.34" r="2.9" fill="#34ffcb"/><circle cx="223.44" cy="393.57" r="2.9" fill="#006bff"/><circle cx="228.47" cy="392.94" r="2.9" fill="#001fff"/><circle cx="232.24" cy="396.08" r="2.9" fill="#0094ff"/><circle cx="188.26" cy="397.34" r="2.9" fill="#0018ff"/><circle cx="195.8" cy="400.48" r="2.9" fill="#3bffc4"/><circle cx="199.57" cy="400.48" r="2.9" fill="#0063ff"/><circle cx="204.59" cy="399.85" r="2.9" fill="#0058ff"/><circle cx="211.5" cy="399.85" r="2.9" fill="#0036ff"/><circle cx="222.81" cy="404.25" r="2.9" fill="#0000ad"/><circle cx="227.84" cy="399.85" r="2.9" fill="#0076ff"/><circle cx="232.86" cy="401.1" r="2.9" fill="#001fff"/><circle cx="190.77" cy="405.5" r="2.9" fill="#0076ff"/><circle cx="195.17" cy="404.87" r="2.9" fill="#002aff"/><circle cx="202.08" cy="403.62" r="2.9" fill="#0081ff"/><circle cx="207.73" cy="405.5" r="2.9" fill="#0010ff"/><circle cx="212.76" cy="405.5" r="2.9" fill="#006bff"/><circle cx="217.79" cy="402.99" r="2.9" fill="#0036ff"/><circle cx="227.84" cy="406.13" r="2.9" fill="#0018ff"/><circle cx="232.24" cy="406.13" r="2.9" fill="#0081ff"/><circle cx="188.88" cy="411.16" r="2.9" fill="#0081ff"/><circle cx="193.28" cy="410.53" r="2.9" fill="#0005ff"/><circle cx="198.31" cy="410.53" r="2.9" fill="#006bff"/><circle cx="205.22" cy="412.41" r="2.9" fill="#0089ff"/><circle cx="211.5" cy="410.53" r="2.9" fill="#0010ff"/><circle cx="217.16" cy="412.41" r="2.9" fill="#0076ff"/><circle cx="222.18" cy="409.27" r="2.9" fill="#0005ff"/><circle cx="227.84" cy="411.79" r="2.9" fill="#0000de"/><circle cx="232.86" cy="411.16" r="2.9" fill="#0076ff"/><circle cx="190.14" cy="418.07" r="2.9" fill="#00dcff"/><circle cx="194.54" cy="416.18" r="2.9" fill="#001fff"/><circle cx="199.57" cy="414.93" r="2.9" fill="#0081ff"/><circle cx="205.85" cy="417.44" r="2.9" fill="#0010ff"/><circle cx="212.76" cy="416.18" r="2.9" fill="#0063ff"/><circle cx="218.41" cy="417.44" r="2.9" fill="#001fff"/><circle cx="224.7" cy="414.93" r="2.9" fill="#006bff"/><circle cx="230.35" cy="416.81" r="2.9" fill="#0010ff"/><circle cx="189.51" cy="422.47" r="2.9" fill="#001fff"/><circle cx="196.42" cy="421.21" r="2.9" fill="#0036ff"/><circle cx="202.08" cy="422.47" r="2.9" fill="#0010ff"/><circle cx="207.1" cy="421.21" r="2.9" fill="#0000cb"/><circle cx="214.02" cy="420.58" r="2.9" fill="#0010ff"/><circle cx="222.18" cy="421.21" r="2.9" fill="#0000c0"/><circle cx="227.21" cy="422.47" r="2.9" fill="#001fff"/><circle cx="232.86" cy="421.21" r="2.9" fill="#0010ff"/><circle cx="193.28" cy="426.86" r="2.9" fill="#001fff"/><circle cx="199.57" cy="425.61" r="2.9" fill="#0050ff"/><circle cx="207.1" cy="426.24" r="2.9" fill="#0081ff"/><circle cx="215.9" cy="425.61" r="2.9" fill="#0005ff"/><circle cx="221.55" cy="426.24" r="2.9" fill="#001fff"/><circle cx="229.72" cy="426.24" r="2.9" fill="#0010ff"/><circle cx="236.26" cy="382.88" r="2.9" fill="#0076ff"/><circle cx="242.54" cy="382.88" r="2.9" fill="#0036ff"/><circle cx="251.34" cy="382.26" r="2.9" fill="#0094ff"/><circle cx="262.02" cy="382.88" r="2.9" fill="#0081ff"/><circle cx="266.41" cy="384.14" r="2.9" fill="#00d4ff"/><circle cx="271.44" cy="382.88" r="2.9" fill="#003dff"/><circle cx="280.86" cy="387.91" r="2.9" fill="#006bff"/><circle cx="237.51" cy="388.54" r="2.9" fill="#001fff"/><circle cx="242.54" cy="390.42" r="2.9" fill="#0076ff"/><circle cx="246.94" cy="387.28" r="2.9" fill="#0036ff"/><circle cx="252.59" cy="391.05" r="2.9" fill="#0089ff"/><circle cx="256.99" cy="389.17" r="2.9" fill="#0000c0"/><circle cx="260.13" cy="386.65" r="2.9" fill="#0036ff"/><circle cx="268.93" cy="389.8" r="2.9" fill="#001fff"/><circle cx="268.3" cy="392.94" r="2.9" fill="#003dff"/><circle cx="236.26" cy="394.82" r="2.9" fill="#0005ff"/><circle cx="240.65" cy="395.45" r="2.9" fill="#0018ff"/><circle cx="246.31" cy="394.19" r="2.9" fill="#001fff"/><circle cx="251.34" cy="396.71" r="2.9" fill="#0050ff"/><circle cx="259.5" cy="396.08" r="2.9" fill="#0058ff"/><circle cx="237.51" cy="399.85" r="2.9" fill="#001fff"/><circle cx="243.17" cy="399.85" r="2.9" fill="#0036ff"/><circle cx="249.45" cy="399.85" r="2.9" fill="#001fff"/><circle cx="257.62" cy="399.85" r="2.9" fill="#0063ff"/><circle cx="251.34" cy="403.62" r="2.9" fill="#0000e9"/><circle cx="262.02" cy="404.25" r="2.9" fill="#0000c0"/><circle cx="265.16" cy="403.62" r="2.9" fill="#0005ff"/><circle cx="235.63" cy="404.87" r="2.9" fill="#0010ff"/><circle cx="238.77" cy="406.76" r="2.9" fill="#0005ff"/><circle cx="247.57" cy="409.27" r="2.9" fill="#0018ff"/><circle cx="264.53" cy="406.76" r="2.9" fill="#0000b8"/><circle cx="265.79" cy="410.91" r="2.9" fill="#0000e9"/><circle cx="274.58" cy="410.15" r="2.9" fill="#0000e9"/><circle cx="280.86" cy="409.9" r="2.9" fill="#0000cb"/><circle cx="238.14" cy="414.3" r="2.9" fill="#0076ff"/><circle cx="248.82" cy="412.41" r="2.9" fill="#001fff"/><circle cx="241.91" cy="417.44" r="2.9" fill="#0018ff"/><circle cx="247.57" cy="417.44" r="2.9" fill="#0000cb"/><circle cx="251.34" cy="416.18" r="2.9" fill="#002aff"/><circle cx="236.26" cy="419.95" r="2.9" fill="#0000b8"/><circle cx="247.57" cy="425.61" r="2.9" fill="#0000cb"/><circle cx="290.5" cy="382.5" r="2.9" fill="#0000f1"/><circle cx="308.9" cy="384.3" r="2.9" fill="#0000f1"/><circle cx="290.0" cy="406.9" r="2.9" fill="#0000f1"/><circle cx="81.95" cy="439.3" r="2.9" fill="#0000fc"/><circle cx="82.96" cy="441.31" r="2.9" fill="#0000f8"/><circle cx="57.07" cy="451.37" r="2.9" fill="#0000a5"/><circle cx="88.24" cy="449.73" r="2.9" fill="#0000f8"/><circle cx="59.59" cy="472.98" r="2.9" fill="#0008ff"/><circle cx="85.09" cy="471.47" r="2.9" fill="#0000f1"/><circle cx="79.69" cy="475.24" r="2.9" fill="#0000e9"/><circle cx="89.24" cy="474.49" r="2.9" fill="#002aff"/><circle cx="124.3" cy="430.88" r="2.9" fill="#0000f1"/><circle cx="136.86" cy="432.14" r="2.9" fill="#0000e9"/><circle cx="133.72" cy="440.31" r="2.9" fill="#0000cb"/><circle cx="121.16" cy="445.96" r="2.9" fill="#0000ad"/><circle cx="126.18" cy="445.34" r="2.9" fill="#0000de"/><circle cx="118.64" cy="450.99" r="2.9" fill="#0000a5"/><circle cx="131.21" cy="449.1" r="2.9" fill="#0000de"/><circle cx="126.81" cy="452.87" r="2.9" fill="#0063ff"/><circle cx="129.7" cy="453.5" r="2.9" fill="#00e0ff"/><circle cx="136.86" cy="445.96" r="2.9" fill="#0018ff"/><circle cx="136.86" cy="452.25" r="2.9" fill="#0005ff"/><circle cx="97.03" cy="458.15" r="2.9" fill="#00d4ff"/><circle cx="109.85" cy="458.53" r="2.9" fill="#0000e9"/><circle cx="117.39" cy="459.16" r="2.9" fill="#0000de"/><circle cx="124.93" cy="460.41" r="2.9" fill="#0018ff"/><circle cx="131.21" cy="459.79" r="2.9" fill="#0000cb"/><circle cx="136.86" cy="459.16" r="2.9" fill="#0005ff"/><circle cx="119.27" cy="462.68" r="2.9" fill="#00e7ff"/><circle cx="101.68" cy="462.93" r="2.9" fill="#0050ff"/><circle cx="106.08" cy="461.67" r="2.9" fill="#0000de"/><circle cx="112.99" cy="463.55" r="2.9" fill="#0000c0"/><circle cx="94.77" cy="468.58" r="2.9" fill="#0000e9"/><circle cx="100.42" cy="467.32" r="2.9" fill="#0000c0"/><circle cx="107.34" cy="467.95" r="2.9" fill="#0005ff"/><circle cx="114.25" cy="467.95" r="2.9" fill="#0000de"/><circle cx="121.79" cy="466.7" r="2.9" fill="#0005ff"/><circle cx="127.44" cy="465.44" r="2.9" fill="#001fff"/><circle cx="133.09" cy="466.07" r="2.9" fill="#0000cb"/><circle cx="91.63" cy="472.98" r="2.9" fill="#0005ff"/><circle cx="98.54" cy="472.35" r="2.9" fill="#0000b8"/><circle cx="103.57" cy="472.35" r="2.9" fill="#0000de"/><circle cx="109.85" cy="474.24" r="2.9" fill="#006bff"/><circle cx="116.13" cy="473.61" r="2.9" fill="#0018ff"/><circle cx="123.67" cy="471.72" r="2.9" fill="#0000e9"/><circle cx="129.95" cy="472.35" r="2.9" fill="#0005ff"/><circle cx="135.61" cy="471.72" r="2.9" fill="#0000de"/><circle cx="121.16" cy="476.12" r="2.9" fill="#0005ff"/><circle cx="140.26" cy="432.77" r="2.9" fill="#0000e9"/><circle cx="149.05" cy="435.28" r="2.9" fill="#0005ff"/><circle cx="154.08" cy="434.03" r="2.9" fill="#006bff"/><circle cx="159.73" cy="432.14" r="2.9" fill="#001fff"/><circle cx="166.02" cy="431.51" r="2.9" fill="#0076ff"/><circle cx="170.41" cy="430.26" r="2.9" fill="#0089ff"/><circle cx="176.7" cy="430.88" r="2.9" fill="#0010ff"/><circle cx="182.35" cy="432.77" r="2.9" fill="#00d4ff"/><circle cx="185.49" cy="430.26" r="2.9" fill="#0089ff"/><circle cx="144.03" cy="439.68" r="2.9" fill="#006bff"/><circle cx="150.31" cy="440.31" r="2.9" fill="#0000cb"/><circle cx="157.85" cy="438.42" r="2.9" fill="#00d4ff"/><circle cx="165.39" cy="437.8" r="2.9" fill="#0000b8"/><circle cx="172.3" cy="435.91" r="2.9" fill="#0081ff"/><circle cx="180.47" cy="437.8" r="2.9" fill="#001fff"/><circle cx="185.49" cy="436.54" r="2.9" fill="#0094ff"/><circle cx="140.26" cy="444.08" r="2.9" fill="#00d4ff"/><circle cx="146.54" cy="445.34" r="2.9" fill="#002aff"/><circle cx="154.08" cy="444.08" r="2.9" fill="#0094ff"/><circle cx="159.73" cy="442.82" r="2.9" fill="#0000cb"/><circle cx="167.9" cy="442.82" r="2.9" fill="#0010ff"/><circle cx="174.18" cy="444.08" r="2.9" fill="#0063ff"/><circle cx="178.58" cy="441.57" r="2.9" fill="#0000c0"/><circle cx="184.24" cy="444.08" r="2.9" fill="#001fff"/><circle cx="142.14" cy="450.36" r="2.9" fill="#0005ff"/><circle cx="149.05" cy="449.1" r="2.9" fill="#0058ff"/><circle cx="155.34" cy="451.62" r="2.9" fill="#0010ff"/><circle cx="162.25" cy="448.48" r="2.9" fill="#0005ff"/><circle cx="168.53" cy="451.62" r="2.9" fill="#0081ff"/><circle cx="175.44" cy="449.73" r="2.9" fill="#001fff"/><circle cx="181.09" cy="450.36" r="2.9" fill="#0000cb"/><circle cx="185.49" cy="450.99" r="2.9" fill="#0010ff"/><circle cx="140.88" cy="457.9" r="2.9" fill="#0000c0"/><circle cx="147.17" cy="458.53" r="2.9" fill="#006bff"/><circle cx="153.45" cy="456.02" r="2.9" fill="#0018ff"/><circle cx="160.36" cy="457.9" r="2.9" fill="#006bff"/><circle cx="166.02" cy="456.02" r="2.9" fill="#0000e9"/><circle cx="172.3" cy="457.27" r="2.9" fill="#0000cb"/><circle cx="179.21" cy="457.27" r="2.9" fill="#0010ff"/><circle cx="184.86" cy="459.16" r="2.9" fill="#001fff"/><circle cx="142.77" cy="464.18" r="2.9" fill="#0000e9"/><circle cx="148.42" cy="462.3" r="2.9" fill="#0094ff"/><circle cx="154.08" cy="462.93" r="2.9" fill="#001fff"/><circle cx="160.36" cy="464.81" r="2.9" fill="#0005ff"/><circle cx="164.76" cy="462.3" r="2.9" fill="#0063ff"/><circle cx="170.41" cy="464.18" r="2.9" fill="#0000c0"/><circle cx="176.7" cy="462.93" r="2.9" fill="#002aff"/><circle cx="182.35" cy="463.55" r="2.9" fill="#0000b8"/><circle cx="141.51" cy="470.47" r="2.9" fill="#0010ff"/><circle cx="148.42" cy="469.21" r="2.9" fill="#0000cb"/><circle cx="154.08" cy="470.47" r="2.9" fill="#006bff"/><circle cx="159.73" cy="469.21" r="2.9" fill="#0018ff"/><circle cx="166.02" cy="467.32" r="2.9" fill="#0076ff"/><circle cx="175.44" cy="466.7" r="2.9" fill="#006bff"/><circle cx="182.98" cy="470.47" r="2.9" fill="#0000cb"/><circle cx="145.28" cy="474.86" r="2.9" fill="#0076ff"/><circle cx="151.57" cy="474.24" r="2.9" fill="#0018ff"/><circle cx="158.48" cy="474.86" r="2.9" fill="#0005ff"/><circle cx="172.93" cy="476.12" r="2.9" fill="#0000c0"/><circle cx="189.51" cy="432.77" r="2.9" fill="#0018ff"/><circle cx="194.54" cy="430.88" r="2.9" fill="#001fff"/><circle cx="200.82" cy="430.88" r="2.9" fill="#0000e9"/><circle cx="207.73" cy="430.01" r="2.9" fill="#0094ff"/><circle cx="223.44" cy="430.01" r="2.9" fill="#0036ff"/><circle cx="228.47" cy="430.88" r="2.9" fill="#0005ff"/><circle cx="230.98" cy="434.03" r="2.9" fill="#001fff"/><circle cx="191.4" cy="435.91" r="2.9" fill="#0000c0"/><circle cx="197.05" cy="436.54" r="2.9" fill="#0018ff"/><circle cx="204.59" cy="436.54" r="2.9" fill="#0005ff"/><circle cx="207.1" cy="436.54" r="2.9" fill="#00e7ff"/><circle cx="210.87" cy="434.65" r="2.9" fill="#0018ff"/><circle cx="216.53" cy="434.03" r="2.9" fill="#001fff"/><circle cx="220.3" cy="437.17" r="2.9" fill="#0000c0"/><circle cx="219.92" cy="441.31" r="2.9" fill="#0094ff"/><circle cx="188.88" cy="441.57" r="2.9" fill="#0005ff"/><circle cx="197.05" cy="440.94" r="2.9" fill="#0000cb"/><circle cx="205.85" cy="444.08" r="2.9" fill="#0000c0"/><circle cx="189.51" cy="446.59" r="2.9" fill="#0018ff"/><circle cx="196.42" cy="448.48" r="2.9" fill="#0005ff"/><circle cx="202.08" cy="447.85" r="2.9" fill="#001fff"/><circle cx="205.22" cy="447.85" r="2.9" fill="#0058ff"/><circle cx="220.93" cy="454.13" r="2.9" fill="#0000e9"/><circle cx="225.32" cy="453.88" r="2.9" fill="#0000e9"/><circle cx="190.77" cy="452.87" r="2.9" fill="#0000e6"/><circle cx="188.26" cy="456.02" r="2.9" fill="#0005ff"/><circle cx="192.65" cy="457.27" r="2.9" fill="#0000cb"/><circle cx="205.6" cy="457.65" r="2.9" fill="#0000e6"/><circle cx="200.19" cy="461.04" r="2.9" fill="#0005ff"/><circle cx="193.91" cy="461.42" r="2.9" fill="#0000e9"/><circle cx="203.34" cy="464.18" r="2.9" fill="#0000c0"/><circle cx="188.26" cy="462.93" r="2.9" fill="#0000c0"/><circle cx="195.54" cy="468.96" r="2.9" fill="#0094ff"/><circle cx="241.03" cy="438.42" r="2.9" fill="#0000e9"/><circle cx="73.79" cy="489.31" r="2.9" fill="#0000e9"/><circle cx="88.24" cy="486.42" r="2.9" fill="#0000e9"/><circle cx="99.17" cy="479.51" r="2.9" fill="#0000cb"/><circle cx="103.31" cy="483.28" r="2.9" fill="#0000cb"/><circle cx="111.1" cy="483.53" r="2.9" fill="#0000c0"/><circle cx="117.39" cy="478.26" r="2.9" fill="#006bff"/><circle cx="131.21" cy="478.88" r="2.9" fill="#001fff"/><circle cx="135.61" cy="478.26" r="2.9" fill="#0005ff"/><circle cx="129.95" cy="482.03" r="2.9" fill="#0076ff"/><circle cx="132.47" cy="490.82" r="2.9" fill="#0000f1"/><circle cx="152.82" cy="477.63" r="2.9" fill="#003dff"/><circle cx="154.71" cy="483.91" r="2.9" fill="#0000f1"/></g>
<text x="36.2" y="296" font-family="Liberation Sans, sans-serif" font-size="16.8" font-weight="bold" text-anchor="end">(b)</text>
<text transform="translate(16.6,395.3) rotate(-90)" font-family="Liberation Sans, sans-serif" font-size="14" text-anchor="middle">SAt (m s<tspan font-size="6.5" dy="-5.3" dx="0.6">-</tspan><tspan font-size="6.5" dx="1.0">1</tspan><tspan dy="5.3" dx="0.6">)</tspan></text>
<g fill="none" stroke="#000" stroke-linecap="round" stroke-linejoin="round"><path d="M190.2,528.6 Q191.2,527.4 192.8,527.8" stroke-width="1.1"/><path d="M192.8,527.8 Q192.1,533.6 189.5,539.3" stroke-width="1.6"/><path d="M192.8,527.8 C195.5,526.7 198.6,526.5 199.5,528.2 C200.3,529.9 199.0,532.3 195.6,532.9 C198.5,533.1 199.9,534.8 199.3,537.0 C198.6,539.1 196.0,539.8 193.6,539.6 C191.6,539.5 190.4,539.3 189.5,539.3" stroke-width="1.15"/></g>
<text x="205" y="540" font-family="Liberation Sans, sans-serif" font-size="14">(m s<tspan font-size="6.5" dy="-5.3" dx="0.6">-</tspan><tspan font-size="6.5" dx="1.0">2</tspan><tspan dy="5.3" dx="0.6">)</tspan></text>
<text x="332.0" y="524.7" font-family="Liberation Sans, sans-serif" font-size="11.5">x</text>
<path d="M600,0L800,0L800,1429L655,1429C625,1290 520,1215 230,1200L230,1065L600,1065Z" fill="#000" transform="translate(341.60,524.70) scale(0.00562,-0.00562)"/><text x="348.00" y="524.70" font-family="Liberation Sans, sans-serif" font-size="11.5" fill="#000">0</text>
<text x="354.2" y="520.6" font-family="Liberation Sans, sans-serif" font-size="8">-</text>
<text x="357.2" y="520.6" font-family="Liberation Sans, sans-serif" font-size="8.5">3</text>
<defs><linearGradient id="jet" x1="0" x2="1" y1="0" y2="0"><stop offset="0.0000" stop-color="#000080"/><stop offset="0.0312" stop-color="#00009f"/><stop offset="0.0625" stop-color="#0000bf"/><stop offset="0.0938" stop-color="#0000df"/><stop offset="0.1250" stop-color="#0000ff"/><stop offset="0.1562" stop-color="#0020ff"/><stop offset="0.1875" stop-color="#0040ff"/><stop offset="0.2188" stop-color="#0060ff"/><stop offset="0.2500" stop-color="#0080ff"/><stop offset="0.2812" stop-color="#009fff"/><stop offset="0.3125" stop-color="#00bfff"/><stop offset="0.3438" stop-color="#00dfff"/><stop offset="0.3750" stop-color="#00ffff"/><stop offset="0.4062" stop-color="#20ffdf"/><stop offset="0.4375" stop-color="#40ffbf"/><stop offset="0.4688" stop-color="#60ff9f"/><stop offset="0.5000" stop-color="#80ff80"/><stop offset="0.5312" stop-color="#9fff60"/><stop offset="0.5625" stop-color="#bfff40"/><stop offset="0.5938" stop-color="#dfff20"/><stop offset="0.6250" stop-color="#ffff00"/><stop offset="0.6562" stop-color="#ffdf00"/><stop offset="0.6875" stop-color="#ffbf00"/><stop offset="0.7188" stop-color="#ff9f00"/><stop offset="0.7500" stop-color="#ff8000"/><stop offset="0.7812" stop-color="#ff6000"/><stop offset="0.8125" stop-color="#ff4000"/><stop offset="0.8438" stop-color="#ff2000"/><stop offset="0.8750" stop-color="#ff0000"/><stop offset="0.9062" stop-color="#df0000"/><stop offset="0.9375" stop-color="#bf0000"/><stop offset="0.9688" stop-color="#9f0000"/><stop offset="1.0000" stop-color="#800000"/></linearGradient></defs>
<rect x="42.4" y="552.7" width="337.0" height="6.399999999999977" fill="url(#jet)" stroke="#333" stroke-width="1"/>
<text x="39.02" y="575.50" font-family="Liberation Sans, sans-serif" font-size="12.5" fill="#000">0</text>
<line x1="104.8" y1="552.7" x2="104.8" y2="559.1" stroke="#111" stroke-width="1"/>
<text x="101.52" y="575.50" font-family="Liberation Sans, sans-serif" font-size="12.5" fill="#000">5</text>
<line x1="167.3" y1="552.7" x2="167.3" y2="559.1" stroke="#111" stroke-width="1"/>
<path d="M600,0L800,0L800,1429L655,1429C625,1290 520,1215 230,1200L230,1065L600,1065Z" fill="#000" transform="translate(160.55,575.50) scale(0.00610,-0.00610)"/><text x="167.50" y="575.50" font-family="Liberation Sans, sans-serif" font-size="12.5" fill="#000">0</text>
<line x1="229.8" y1="552.7" x2="229.8" y2="559.1" stroke="#111" stroke-width="1"/>
<path d="M600,0L800,0L800,1429L655,1429C625,1290 520,1215 230,1200L230,1065L600,1065Z" fill="#000" transform="translate(223.05,575.50) scale(0.00610,-0.00610)"/><text x="230.00" y="575.50" font-family="Liberation Sans, sans-serif" font-size="12.5" fill="#000">5</text>
<line x1="292.3" y1="552.7" x2="292.3" y2="559.1" stroke="#111" stroke-width="1"/>
<text x="285.55" y="575.50" font-family="Liberation Sans, sans-serif" font-size="12.5" fill="#000">20</text>
<line x1="354.8" y1="552.7" x2="354.8" y2="559.1" stroke="#111" stroke-width="1"/>
<text x="348.05" y="575.50" font-family="Liberation Sans, sans-serif" font-size="12.5" fill="#000">25</text>
<text x="210.8" y="593" font-family="Liberation Sans, sans-serif" font-size="14.2" text-anchor="middle">Offshore 2km desert wind speed (m s<tspan font-size="6.5" dy="-5.3" dx="0.6">-</tspan><tspan font-size="6.5" dx="1.0">1</tspan><tspan dy="5.3" dx="0.6">)</tspan></text>
</svg></body></html>
